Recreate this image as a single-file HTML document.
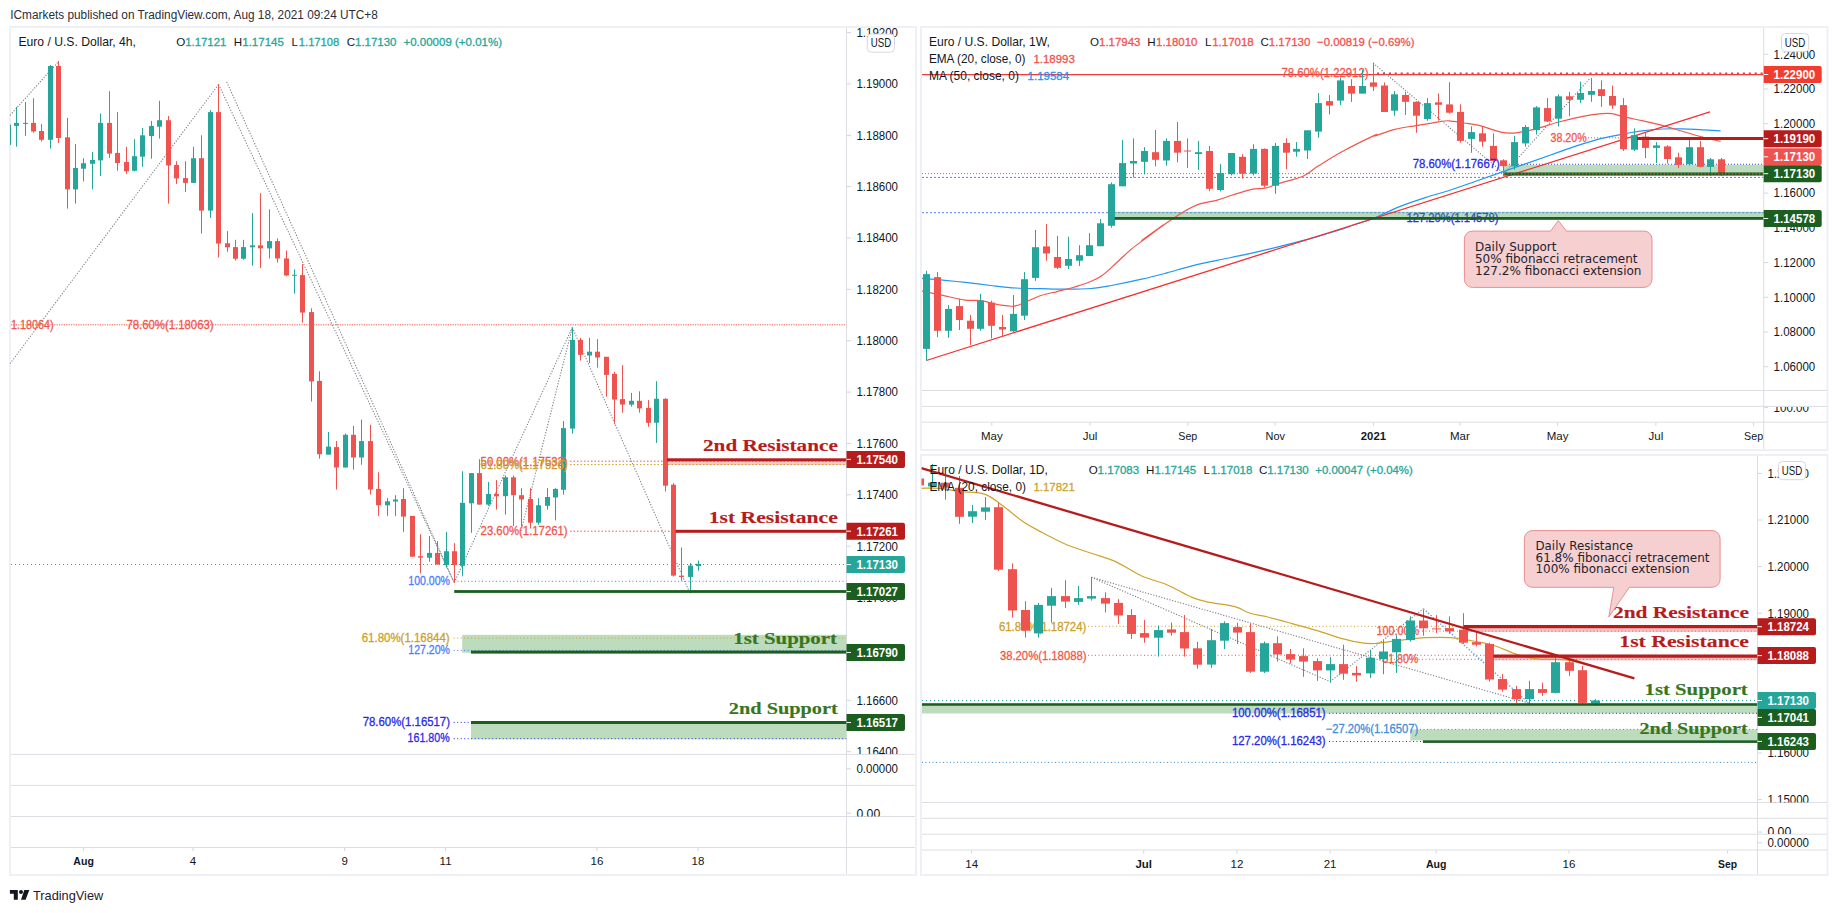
<!DOCTYPE html>
<html lang="en"><head><meta charset="utf-8"><title>EURUSD chart</title>
<style>html,body{margin:0;padding:0;background:#fff;}body{width:1837px;height:913px;overflow:hidden;}svg{display:block;}text{white-space:pre;}</style>
</head><body>
<svg width="1837" height="913" viewBox="0 0 1837 913">
<text x="10.3" y="19.2" font-size="12.5" fill="#2a2e39" font-family='"Liberation Sans", Arial, sans-serif' textLength="367.5" lengthAdjust="spacingAndGlyphs">ICmarkets published on TradingView.com, Aug 18, 2021 09:24 UTC+8</text>
<rect x="10.0" y="27.0" width="906.0" height="848.0" fill="#ffffff" stroke="#eef0f6" stroke-width="2"/>
<rect x="921.0" y="27.0" width="906.5" height="423.0" fill="#ffffff" stroke="#eef0f6" stroke-width="2"/>
<rect x="921.0" y="455.0" width="906.5" height="420.0" fill="#ffffff" stroke="#eef0f6" stroke-width="2"/>
<defs>
<clipPath id="cL"><rect x="10" y="28" width="836.5" height="726"/></clipPath>
<clipPath id="cLa"><rect x="847" y="28" width="68" height="726"/></clipPath>
<clipPath id="cLb"><rect x="847" y="786" width="68" height="30.5"/></clipPath>
<clipPath id="cT"><rect x="922" y="28" width="841.5" height="362"/></clipPath>
<clipPath id="cTa"><rect x="1764" y="28" width="63" height="362"/></clipPath>
<clipPath id="cTb"><rect x="1764" y="407" width="63" height="15"/></clipPath>
<clipPath id="cB"><rect x="921.5" y="456" width="836" height="346"/></clipPath>
<clipPath id="cBa"><rect x="1758" y="456" width="69" height="346.5"/></clipPath>
<clipPath id="cBb"><rect x="1758" y="819" width="69" height="15"/></clipPath>
</defs>
<line x1="11.0" y1="754.4" x2="915.0" y2="754.4" stroke="#dddee3" stroke-width="1"/>
<line x1="11.0" y1="785.4" x2="915.0" y2="785.4" stroke="#dddee3" stroke-width="1"/>
<line x1="11.0" y1="816.5" x2="915.0" y2="816.5" stroke="#dddee3" stroke-width="1"/>
<line x1="11.0" y1="847.5" x2="915.0" y2="847.5" stroke="#dddee3" stroke-width="1"/>
<line x1="846.5" y1="28.0" x2="846.5" y2="874.0" stroke="#dddee3" stroke-width="1"/>
<g clip-path="url(#cL)">
<line x1="11.0" y1="564.5" x2="846.5" y2="564.5" stroke="#26a69a" stroke-width="1" stroke-dasharray="1 3"/>
<line x1="11.0" y1="324.8" x2="846.5" y2="324.8" stroke="#f2564b" stroke-width="1" stroke-dasharray="1.2 1.2"/>
<line x1="10.0" y1="115.4" x2="58.4" y2="61.7" stroke="#7c7f88" stroke-width="1.1" stroke-dasharray="1.2 1.6"/>
<line x1="10.0" y1="363.7" x2="218.6" y2="84.4" stroke="#7c7f88" stroke-width="1.1" stroke-dasharray="1.2 1.6"/>
<line x1="218.6" y1="84.4" x2="454.2" y2="582.6" stroke="#7c7f88" stroke-width="1.1" stroke-dasharray="1.2 1.6"/>
<line x1="226.7" y1="81.9" x2="454.2" y2="582.6" stroke="#7c7f88" stroke-width="1.1" stroke-dasharray="1.2 1.6"/>
<line x1="454.2" y1="582.6" x2="572.3" y2="327.5" stroke="#7c7f88" stroke-width="1.1" stroke-dasharray="1.2 1.6"/>
<line x1="521.0" y1="531.0" x2="572.3" y2="327.5" stroke="#7c7f88" stroke-width="1.1" stroke-dasharray="1.2 1.6"/>
<line x1="572.3" y1="327.5" x2="689.0" y2="591.0" stroke="#7c7f88" stroke-width="1.1" stroke-dasharray="1.2 1.6"/>
<rect x="462.2" y="634.8" width="384.3" height="18.0" fill="#bddcbe"/>
<rect x="471.0" y="724.0" width="375.5" height="15.3" fill="#bddcbe"/>
<rect x="667.0" y="461.0" width="179.5" height="4.0" fill="#f7c9c4"/>
<line x1="453.7" y1="638.1" x2="846.5" y2="638.1" stroke="#cda127" stroke-width="1" stroke-dasharray="1 2.5"/>
<line x1="453.7" y1="650.4" x2="846.5" y2="650.4" stroke="#4a7dff" stroke-width="1" stroke-dasharray="1 2.5"/>
<line x1="453.7" y1="722.4" x2="846.5" y2="722.4" stroke="#2a2ae8" stroke-width="1" stroke-dasharray="1 2.5"/>
<line x1="453.7" y1="738.7" x2="846.5" y2="738.7" stroke="#2a2ae8" stroke-width="1" stroke-dasharray="1 2.5"/>
<line x1="454.0" y1="581.3" x2="846.5" y2="581.3" stroke="#4a7dff" stroke-width="1" stroke-dasharray="1 2.5"/>
<line x1="570.0" y1="531.2" x2="846.5" y2="531.2" stroke="#f2564b" stroke-width="1" stroke-dasharray="1.5 2"/>
<line x1="570.0" y1="461.2" x2="846.5" y2="461.2" stroke="#f2564b" stroke-width="1" stroke-dasharray="1.5 2"/>
<line x1="570.0" y1="464.6" x2="846.5" y2="464.6" stroke="#cda127" stroke-width="1" stroke-dasharray="1.5 2"/>
<rect x="8" y="120.9" width="1" height="27.7" fill="#26a69a"/>
<rect x="6" y="124.7" width="5" height="20.2" fill="#26a69a"/>
<rect x="16" y="107.1" width="1" height="39.6" fill="#26a69a"/>
<rect x="14" y="122.9" width="5" height="3.0" fill="#26a69a"/>
<rect x="25" y="102.0" width="1" height="34.0" fill="#26a69a"/>
<rect x="23" y="122.9" width="5" height="1.0" fill="#26a69a"/>
<rect x="33" y="98.2" width="1" height="34.5" fill="#ef5350"/>
<rect x="31" y="122.9" width="5" height="8.6" fill="#ef5350"/>
<rect x="41" y="123.9" width="1" height="17.6" fill="#ef5350"/>
<rect x="39" y="131.0" width="5" height="8.8" fill="#ef5350"/>
<rect x="50" y="65.0" width="1" height="83.6" fill="#26a69a"/>
<rect x="48" y="66.0" width="5" height="73.8" fill="#26a69a"/>
<rect x="58" y="61.0" width="1" height="81.9" fill="#ef5350"/>
<rect x="56" y="66.0" width="5" height="72.0" fill="#ef5350"/>
<rect x="67" y="117.9" width="1" height="90.7" fill="#ef5350"/>
<rect x="65" y="137.3" width="5" height="52.1" fill="#ef5350"/>
<rect x="75" y="144.1" width="1" height="59.5" fill="#26a69a"/>
<rect x="73" y="168.0" width="5" height="21.4" fill="#26a69a"/>
<rect x="83" y="158.2" width="1" height="23.2" fill="#26a69a"/>
<rect x="81" y="163.2" width="5" height="5.5" fill="#26a69a"/>
<rect x="92" y="151.9" width="1" height="37.5" fill="#26a69a"/>
<rect x="90" y="160.0" width="5" height="3.8" fill="#26a69a"/>
<rect x="100" y="113.4" width="1" height="62.5" fill="#26a69a"/>
<rect x="98" y="122.9" width="5" height="37.5" fill="#26a69a"/>
<rect x="109" y="91.2" width="1" height="66.8" fill="#ef5350"/>
<rect x="107" y="122.9" width="5" height="30.7" fill="#ef5350"/>
<rect x="117" y="112.1" width="1" height="58.7" fill="#ef5350"/>
<rect x="115" y="152.9" width="5" height="10.1" fill="#ef5350"/>
<rect x="126" y="146.9" width="1" height="27.0" fill="#ef5350"/>
<rect x="124" y="162.0" width="5" height="9.3" fill="#ef5350"/>
<rect x="134" y="139.1" width="1" height="32.2" fill="#26a69a"/>
<rect x="132" y="156.2" width="5" height="14.6" fill="#26a69a"/>
<rect x="142" y="128.0" width="1" height="38.8" fill="#26a69a"/>
<rect x="140" y="135.3" width="5" height="21.4" fill="#26a69a"/>
<rect x="151" y="120.9" width="1" height="37.8" fill="#26a69a"/>
<rect x="149" y="126.0" width="5" height="10.1" fill="#26a69a"/>
<rect x="159" y="100.8" width="1" height="37.8" fill="#26a69a"/>
<rect x="157" y="120.2" width="5" height="6.5" fill="#26a69a"/>
<rect x="168" y="115.9" width="1" height="87.7" fill="#ef5350"/>
<rect x="166" y="120.2" width="5" height="45.3" fill="#ef5350"/>
<rect x="176" y="161.2" width="1" height="22.7" fill="#ef5350"/>
<rect x="174" y="165.0" width="5" height="13.4" fill="#ef5350"/>
<rect x="185" y="161.2" width="1" height="30.7" fill="#ef5350"/>
<rect x="183" y="178.1" width="5" height="4.8" fill="#ef5350"/>
<rect x="193" y="146.9" width="1" height="36.0" fill="#26a69a"/>
<rect x="191" y="158.2" width="5" height="24.7" fill="#26a69a"/>
<rect x="201" y="135.3" width="1" height="98.2" fill="#ef5350"/>
<rect x="199" y="158.2" width="5" height="52.4" fill="#ef5350"/>
<rect x="210" y="110.1" width="1" height="107.8" fill="#26a69a"/>
<rect x="208" y="112.1" width="5" height="98.5" fill="#26a69a"/>
<rect x="218" y="84.4" width="1" height="173.0" fill="#ef5350"/>
<rect x="216" y="112.1" width="5" height="131.5" fill="#ef5350"/>
<rect x="227" y="231.0" width="1" height="20.7" fill="#ef5350"/>
<rect x="225" y="243.3" width="5" height="4.0" fill="#ef5350"/>
<rect x="235" y="239.8" width="1" height="20.7" fill="#ef5350"/>
<rect x="233" y="247.1" width="5" height="11.6" fill="#ef5350"/>
<rect x="243" y="239.8" width="1" height="19.9" fill="#26a69a"/>
<rect x="241" y="247.1" width="5" height="11.6" fill="#26a69a"/>
<rect x="252" y="213.1" width="1" height="52.4" fill="#26a69a"/>
<rect x="250" y="245.3" width="5" height="2.0" fill="#26a69a"/>
<rect x="260" y="193.2" width="1" height="74.8" fill="#ef5350"/>
<rect x="258" y="245.3" width="5" height="3.0" fill="#ef5350"/>
<rect x="269" y="209.3" width="1" height="49.1" fill="#26a69a"/>
<rect x="267" y="241.1" width="5" height="7.3" fill="#26a69a"/>
<rect x="277" y="238.3" width="1" height="24.2" fill="#ef5350"/>
<rect x="275" y="241.1" width="5" height="17.4" fill="#ef5350"/>
<rect x="286" y="250.4" width="1" height="25.9" fill="#ef5350"/>
<rect x="284" y="258.4" width="5" height="17.1" fill="#ef5350"/>
<rect x="294" y="269.3" width="1" height="24.4" fill="#26a69a"/>
<rect x="292" y="274.8" width="5" height="1.0" fill="#26a69a"/>
<rect x="302" y="264.2" width="1" height="58.4" fill="#ef5350"/>
<rect x="300" y="275.1" width="5" height="37.5" fill="#ef5350"/>
<rect x="311" y="308.3" width="1" height="93.2" fill="#ef5350"/>
<rect x="309" y="312.1" width="5" height="69.3" fill="#ef5350"/>
<rect x="319" y="371.3" width="1" height="87.4" fill="#ef5350"/>
<rect x="317" y="380.9" width="5" height="73.3" fill="#ef5350"/>
<rect x="328" y="432.0" width="1" height="22.2" fill="#26a69a"/>
<rect x="326" y="446.6" width="5" height="8.1" fill="#26a69a"/>
<rect x="336" y="441.1" width="1" height="48.4" fill="#ef5350"/>
<rect x="334" y="447.1" width="5" height="20.4" fill="#ef5350"/>
<rect x="345" y="433.5" width="1" height="34.0" fill="#26a69a"/>
<rect x="343" y="434.8" width="5" height="32.7" fill="#26a69a"/>
<rect x="353" y="425.9" width="1" height="43.8" fill="#ef5350"/>
<rect x="351" y="434.8" width="5" height="22.7" fill="#ef5350"/>
<rect x="361" y="419.6" width="1" height="45.1" fill="#26a69a"/>
<rect x="359" y="441.1" width="5" height="16.4" fill="#26a69a"/>
<rect x="370" y="424.7" width="1" height="69.8" fill="#ef5350"/>
<rect x="368" y="441.1" width="5" height="48.4" fill="#ef5350"/>
<rect x="378" y="472.3" width="1" height="43.6" fill="#ef5350"/>
<rect x="376" y="488.9" width="5" height="16.4" fill="#ef5350"/>
<rect x="387" y="498.2" width="1" height="17.6" fill="#26a69a"/>
<rect x="385" y="501.3" width="5" height="4.0" fill="#26a69a"/>
<rect x="395" y="495.2" width="1" height="20.7" fill="#26a69a"/>
<rect x="393" y="499.5" width="5" height="2.0" fill="#26a69a"/>
<rect x="403" y="488.2" width="1" height="43.6" fill="#ef5350"/>
<rect x="401" y="499.0" width="5" height="17.6" fill="#ef5350"/>
<rect x="412" y="515.9" width="1" height="40.8" fill="#ef5350"/>
<rect x="410" y="515.9" width="5" height="40.8" fill="#ef5350"/>
<rect x="420" y="534.3" width="1" height="39.0" fill="#ef5350"/>
<rect x="418" y="556.2" width="5" height="1.5" fill="#ef5350"/>
<rect x="429" y="536.0" width="1" height="25.7" fill="#26a69a"/>
<rect x="427" y="552.9" width="5" height="4.8" fill="#26a69a"/>
<rect x="437" y="541.1" width="1" height="23.4" fill="#ef5350"/>
<rect x="435" y="552.9" width="5" height="11.6" fill="#ef5350"/>
<rect x="446" y="531.8" width="1" height="35.8" fill="#26a69a"/>
<rect x="444" y="551.2" width="5" height="13.9" fill="#26a69a"/>
<rect x="454" y="543.1" width="1" height="39.6" fill="#ef5350"/>
<rect x="452" y="551.2" width="5" height="13.9" fill="#ef5350"/>
<rect x="462" y="471.3" width="1" height="105.0" fill="#26a69a"/>
<rect x="460" y="502.8" width="5" height="63.0" fill="#26a69a"/>
<rect x="471" y="473.1" width="1" height="59.7" fill="#26a69a"/>
<rect x="469" y="473.1" width="5" height="30.2" fill="#26a69a"/>
<rect x="479" y="459.2" width="1" height="45.3" fill="#ef5350"/>
<rect x="477" y="473.1" width="5" height="31.5" fill="#ef5350"/>
<rect x="488" y="481.9" width="1" height="23.9" fill="#26a69a"/>
<rect x="486" y="494.0" width="5" height="10.6" fill="#26a69a"/>
<rect x="496" y="480.1" width="1" height="29.5" fill="#ef5350"/>
<rect x="494" y="494.0" width="5" height="2.3" fill="#ef5350"/>
<rect x="505" y="475.6" width="1" height="39.0" fill="#26a69a"/>
<rect x="503" y="477.3" width="5" height="18.9" fill="#26a69a"/>
<rect x="513" y="475.6" width="1" height="50.4" fill="#ef5350"/>
<rect x="511" y="477.3" width="5" height="17.9" fill="#ef5350"/>
<rect x="521" y="488.2" width="1" height="37.8" fill="#ef5350"/>
<rect x="519" y="495.2" width="5" height="4.3" fill="#ef5350"/>
<rect x="530" y="488.2" width="1" height="40.3" fill="#ef5350"/>
<rect x="528" y="499.0" width="5" height="23.7" fill="#ef5350"/>
<rect x="538" y="498.2" width="1" height="26.5" fill="#26a69a"/>
<rect x="536" y="505.3" width="5" height="17.4" fill="#26a69a"/>
<rect x="547" y="488.2" width="1" height="21.4" fill="#26a69a"/>
<rect x="545" y="497.0" width="5" height="8.8" fill="#26a69a"/>
<rect x="555" y="488.2" width="1" height="32.2" fill="#26a69a"/>
<rect x="553" y="488.9" width="5" height="8.6" fill="#26a69a"/>
<rect x="563" y="421.0" width="1" height="73.6" fill="#26a69a"/>
<rect x="561" y="428.1" width="5" height="61.7" fill="#26a69a"/>
<rect x="572" y="327.8" width="1" height="105.8" fill="#26a69a"/>
<rect x="570" y="339.9" width="5" height="88.7" fill="#26a69a"/>
<rect x="580" y="337.9" width="1" height="22.7" fill="#ef5350"/>
<rect x="578" y="339.9" width="5" height="14.9" fill="#ef5350"/>
<rect x="589" y="337.9" width="1" height="25.2" fill="#26a69a"/>
<rect x="587" y="351.7" width="5" height="3.8" fill="#26a69a"/>
<rect x="597" y="339.1" width="1" height="28.5" fill="#ef5350"/>
<rect x="595" y="351.7" width="5" height="5.8" fill="#ef5350"/>
<rect x="606" y="356.8" width="1" height="39.8" fill="#ef5350"/>
<rect x="604" y="356.8" width="5" height="18.1" fill="#ef5350"/>
<rect x="614" y="371.9" width="1" height="52.4" fill="#ef5350"/>
<rect x="612" y="373.9" width="5" height="25.7" fill="#ef5350"/>
<rect x="622" y="365.1" width="1" height="47.6" fill="#ef5350"/>
<rect x="620" y="399.1" width="5" height="5.5" fill="#ef5350"/>
<rect x="631" y="392.8" width="1" height="13.9" fill="#26a69a"/>
<rect x="629" y="400.8" width="5" height="3.8" fill="#26a69a"/>
<rect x="639" y="391.3" width="1" height="21.4" fill="#ef5350"/>
<rect x="637" y="400.8" width="5" height="7.6" fill="#ef5350"/>
<rect x="648" y="400.1" width="1" height="26.7" fill="#ef5350"/>
<rect x="646" y="407.9" width="5" height="14.9" fill="#ef5350"/>
<rect x="656" y="381.2" width="1" height="61.7" fill="#26a69a"/>
<rect x="654" y="398.8" width="5" height="23.9" fill="#26a69a"/>
<rect x="665" y="398.3" width="1" height="93.2" fill="#ef5350"/>
<rect x="663" y="398.8" width="5" height="86.9" fill="#ef5350"/>
<rect x="673" y="483.2" width="1" height="93.2" fill="#ef5350"/>
<rect x="671" y="484.7" width="5" height="90.9" fill="#ef5350"/>
<rect x="681" y="547.4" width="1" height="33.3" fill="#ef5350"/>
<rect x="679" y="575.7" width="5" height="1.3" fill="#ef5350"/>
<rect x="690" y="563.1" width="1" height="30.2" fill="#26a69a"/>
<rect x="688" y="565.6" width="5" height="11.3" fill="#26a69a"/>
<rect x="698" y="560.5" width="1" height="10.1" fill="#26a69a"/>
<rect x="696" y="563.8" width="5" height="2.3" fill="#26a69a"/>
<rect x="667.0" y="458.3" width="179.5" height="3.0" fill="#b71c1c"/>
<rect x="675.6" y="529.8" width="170.9" height="3.0" fill="#b71c1c"/>
<rect x="454.2" y="590.1" width="392.3" height="2.8" fill="#1b5e20"/>
<rect x="471.0" y="650.6" width="375.5" height="3.0" fill="#1b5e20"/>
<rect x="471.0" y="721.0" width="375.5" height="3.0" fill="#1b5e20"/>
<text x="11.0" y="329.0" font-size="12" fill="#f2564b" font-family='"Liberation Sans", Arial, sans-serif' textLength="42.5" lengthAdjust="spacingAndGlyphs" stroke="#f2564b" stroke-width="0.3">1.18064)</text>
<text x="126.4" y="329.0" font-size="12" fill="#f2564b" font-family='"Liberation Sans", Arial, sans-serif' textLength="87.2" lengthAdjust="spacingAndGlyphs" stroke="#f2564b" stroke-width="0.3">78.60%(1.18063)</text>
<text x="480.6" y="465.5" font-size="12" fill="#f2564b" font-family='"Liberation Sans", Arial, sans-serif' textLength="87.0" lengthAdjust="spacingAndGlyphs" stroke="#f2564b" stroke-width="0.3">50.00%(1.17532)</text>
<text x="480.6" y="468.8" font-size="12" fill="#cda127" font-family='"Liberation Sans", Arial, sans-serif' textLength="87.0" lengthAdjust="spacingAndGlyphs" stroke="#cda127" stroke-width="0.3">61.80%(1.17526)</text>
<text x="480.6" y="535.4" font-size="12" fill="#f2564b" font-family='"Liberation Sans", Arial, sans-serif' textLength="87.0" lengthAdjust="spacingAndGlyphs" stroke="#f2564b" stroke-width="0.3">23.60%(1.17261)</text>
<text x="408.3" y="585.3" font-size="12" fill="#4a7dff" font-family='"Liberation Sans", Arial, sans-serif' textLength="41.7" lengthAdjust="spacingAndGlyphs" stroke="#4a7dff" stroke-width="0.3">100.00%</text>
<text x="361.7" y="642.0" font-size="12" fill="#cda127" font-family='"Liberation Sans", Arial, sans-serif' textLength="88.0" lengthAdjust="spacingAndGlyphs" stroke="#cda127" stroke-width="0.3">61.80%(1.16844)</text>
<text x="408.3" y="654.0" font-size="12" fill="#4a7dff" font-family='"Liberation Sans", Arial, sans-serif' textLength="41.7" lengthAdjust="spacingAndGlyphs" stroke="#4a7dff" stroke-width="0.3">127.20%</text>
<text x="362.7" y="725.8" font-size="12" fill="#2a2ae8" font-family='"Liberation Sans", Arial, sans-serif' textLength="87.3" lengthAdjust="spacingAndGlyphs" stroke="#2a2ae8" stroke-width="0.3">78.60%(1.16517)</text>
<text x="407.6" y="742.2" font-size="12" fill="#2a2ae8" font-family='"Liberation Sans", Arial, sans-serif' textLength="42.0" lengthAdjust="spacingAndGlyphs" stroke="#2a2ae8" stroke-width="0.3">161.80%</text>
<text x="837.8" y="451.2" font-size="17.6" fill="#b71c1c" font-family='"Liberation Serif", "Times New Roman", serif' text-anchor="end" font-weight="bold" textLength="134.8" lengthAdjust="spacingAndGlyphs" stroke="#b71c1c" stroke-width="0.15">2nd Resistance</text>
<text x="837.8" y="522.7" font-size="17.6" fill="#b71c1c" font-family='"Liberation Serif", "Times New Roman", serif' text-anchor="end" font-weight="bold" textLength="129.0" lengthAdjust="spacingAndGlyphs" stroke="#b71c1c" stroke-width="0.15">1st Resistance</text>
<text x="837.0" y="643.7" font-size="17.6" fill="#38761d" font-family='"Liberation Serif", "Times New Roman", serif' text-anchor="end" font-weight="bold" textLength="103.7" lengthAdjust="spacingAndGlyphs" stroke="#38761d" stroke-width="0.15">1st Support</text>
<text x="837.8" y="713.7" font-size="17.6" fill="#38761d" font-family='"Liberation Serif", "Times New Roman", serif' text-anchor="end" font-weight="bold" textLength="109.0" lengthAdjust="spacingAndGlyphs" stroke="#38761d" stroke-width="0.15">2nd Support</text>
</g>
<text x="18.4" y="46.2" font-size="12.2" fill="#131722" font-family='"Liberation Sans", Arial, sans-serif' textLength="117.6" lengthAdjust="spacingAndGlyphs">Euro / U.S. Dollar, 4h,</text>
<text x="176.3" y="46.2" font-size="11.6" fill="#131722" font-family='"Liberation Sans", Arial, sans-serif'>O</text>
<text x="185.3" y="46.2" font-size="11.8" fill="#26a69a" font-family='"Liberation Sans", Arial, sans-serif' textLength="41.0" lengthAdjust="spacingAndGlyphs" stroke="#26a69a" stroke-width="0.3">1.17121</text>
<text x="233.8" y="46.2" font-size="11.6" fill="#131722" font-family='"Liberation Sans", Arial, sans-serif'>H</text>
<text x="242.3" y="46.2" font-size="11.8" fill="#26a69a" font-family='"Liberation Sans", Arial, sans-serif' textLength="41.5" lengthAdjust="spacingAndGlyphs" stroke="#26a69a" stroke-width="0.3">1.17145</text>
<text x="291.5" y="46.2" font-size="11.6" fill="#131722" font-family='"Liberation Sans", Arial, sans-serif'>L</text>
<text x="298.8" y="46.2" font-size="11.8" fill="#26a69a" font-family='"Liberation Sans", Arial, sans-serif' textLength="40.5" lengthAdjust="spacingAndGlyphs" stroke="#26a69a" stroke-width="0.3">1.17108</text>
<text x="346.8" y="46.2" font-size="11.6" fill="#131722" font-family='"Liberation Sans", Arial, sans-serif'>C</text>
<text x="355.0" y="46.2" font-size="11.8" fill="#26a69a" font-family='"Liberation Sans", Arial, sans-serif' textLength="41.5" lengthAdjust="spacingAndGlyphs" stroke="#26a69a" stroke-width="0.3">1.17130</text>
<text x="403.5" y="46.2" font-size="11.8" fill="#26a69a" font-family='"Liberation Sans", Arial, sans-serif' textLength="98.5" lengthAdjust="spacingAndGlyphs" stroke="#26a69a" stroke-width="0.3">+0.00009 (+0.01%)</text>
<g clip-path="url(#cLa)">
<line x1="846.5" y1="32.5" x2="851.0" y2="32.5" stroke="#d3d5dc" stroke-width="1"/>
<text x="856.4" y="36.8" font-size="12.2" fill="#131722" font-family='"Liberation Sans", Arial, sans-serif' textLength="41.6" lengthAdjust="spacingAndGlyphs">1.19200</text>
<line x1="846.5" y1="83.9" x2="851.0" y2="83.9" stroke="#d3d5dc" stroke-width="1"/>
<text x="856.4" y="88.2" font-size="12.2" fill="#131722" font-family='"Liberation Sans", Arial, sans-serif' textLength="41.6" lengthAdjust="spacingAndGlyphs">1.19000</text>
<line x1="846.5" y1="135.3" x2="851.0" y2="135.3" stroke="#d3d5dc" stroke-width="1"/>
<text x="856.4" y="139.6" font-size="12.2" fill="#131722" font-family='"Liberation Sans", Arial, sans-serif' textLength="41.6" lengthAdjust="spacingAndGlyphs">1.18800</text>
<line x1="846.5" y1="186.6" x2="851.0" y2="186.6" stroke="#d3d5dc" stroke-width="1"/>
<text x="856.4" y="190.9" font-size="12.2" fill="#131722" font-family='"Liberation Sans", Arial, sans-serif' textLength="41.6" lengthAdjust="spacingAndGlyphs">1.18600</text>
<line x1="846.5" y1="238.0" x2="851.0" y2="238.0" stroke="#d3d5dc" stroke-width="1"/>
<text x="856.4" y="242.3" font-size="12.2" fill="#131722" font-family='"Liberation Sans", Arial, sans-serif' textLength="41.6" lengthAdjust="spacingAndGlyphs">1.18400</text>
<line x1="846.5" y1="289.4" x2="851.0" y2="289.4" stroke="#d3d5dc" stroke-width="1"/>
<text x="856.4" y="293.7" font-size="12.2" fill="#131722" font-family='"Liberation Sans", Arial, sans-serif' textLength="41.6" lengthAdjust="spacingAndGlyphs">1.18200</text>
<line x1="846.5" y1="340.7" x2="851.0" y2="340.7" stroke="#d3d5dc" stroke-width="1"/>
<text x="856.4" y="345.0" font-size="12.2" fill="#131722" font-family='"Liberation Sans", Arial, sans-serif' textLength="41.6" lengthAdjust="spacingAndGlyphs">1.18000</text>
<line x1="846.5" y1="392.1" x2="851.0" y2="392.1" stroke="#d3d5dc" stroke-width="1"/>
<text x="856.4" y="396.4" font-size="12.2" fill="#131722" font-family='"Liberation Sans", Arial, sans-serif' textLength="41.6" lengthAdjust="spacingAndGlyphs">1.17800</text>
<line x1="846.5" y1="443.5" x2="851.0" y2="443.5" stroke="#d3d5dc" stroke-width="1"/>
<text x="856.4" y="447.8" font-size="12.2" fill="#131722" font-family='"Liberation Sans", Arial, sans-serif' textLength="41.6" lengthAdjust="spacingAndGlyphs">1.17600</text>
<line x1="846.5" y1="494.8" x2="851.0" y2="494.8" stroke="#d3d5dc" stroke-width="1"/>
<text x="856.4" y="499.1" font-size="12.2" fill="#131722" font-family='"Liberation Sans", Arial, sans-serif' textLength="41.6" lengthAdjust="spacingAndGlyphs">1.17400</text>
<line x1="846.5" y1="546.2" x2="851.0" y2="546.2" stroke="#d3d5dc" stroke-width="1"/>
<text x="856.4" y="550.5" font-size="12.2" fill="#131722" font-family='"Liberation Sans", Arial, sans-serif' textLength="41.6" lengthAdjust="spacingAndGlyphs">1.17200</text>
<line x1="846.5" y1="597.6" x2="851.0" y2="597.6" stroke="#d3d5dc" stroke-width="1"/>
<text x="856.4" y="601.9" font-size="12.2" fill="#131722" font-family='"Liberation Sans", Arial, sans-serif' textLength="41.6" lengthAdjust="spacingAndGlyphs">1.17000</text>
<line x1="846.5" y1="648.9" x2="851.0" y2="648.9" stroke="#d3d5dc" stroke-width="1"/>
<text x="856.4" y="653.2" font-size="12.2" fill="#131722" font-family='"Liberation Sans", Arial, sans-serif' textLength="41.6" lengthAdjust="spacingAndGlyphs">1.16800</text>
<line x1="846.5" y1="700.3" x2="851.0" y2="700.3" stroke="#d3d5dc" stroke-width="1"/>
<text x="856.4" y="704.6" font-size="12.2" fill="#131722" font-family='"Liberation Sans", Arial, sans-serif' textLength="41.6" lengthAdjust="spacingAndGlyphs">1.16600</text>
<line x1="846.5" y1="751.7" x2="851.0" y2="751.7" stroke="#d3d5dc" stroke-width="1"/>
<text x="856.4" y="756.0" font-size="12.2" fill="#131722" font-family='"Liberation Sans", Arial, sans-serif' textLength="41.6" lengthAdjust="spacingAndGlyphs">1.16400</text>
</g>
<line x1="846.5" y1="768.9" x2="851.0" y2="768.9" stroke="#d3d5dc" stroke-width="1"/>
<text x="856.4" y="773.2" font-size="12.2" fill="#131722" font-family='"Liberation Sans", Arial, sans-serif' textLength="41.6" lengthAdjust="spacingAndGlyphs">0.00000</text>
<g clip-path="url(#cLb)">
<line x1="846.5" y1="813.2" x2="851.0" y2="813.2" stroke="#d3d5dc" stroke-width="1"/>
<text x="856.4" y="817.5" font-size="12.2" fill="#131722" font-family='"Liberation Sans", Arial, sans-serif' textLength="23.8" lengthAdjust="spacingAndGlyphs">0.00</text>
</g>
<rect x="867.3" y="34.0" width="27.2" height="18.2" rx="4" fill="#ffffff" stroke="#d5d8e2" stroke-width="1"/>
<text x="880.9" y="47.4" font-size="12" fill="#131722" font-family='"Liberation Sans", Arial, sans-serif' text-anchor="middle" textLength="20.5" lengthAdjust="spacingAndGlyphs">USD</text>
<path d="M846.5 450.9 h56.5 a2 2 0 0 1 2 2 v13.0 a2 2 0 0 1 -2 2 h-56.5 z" fill="#b71c1c"/>
<line x1="846.5" y1="459.4" x2="851.0" y2="459.4" stroke="#ffffff" stroke-width="1"/>
<text x="856.4" y="463.7" font-size="12.2" fill="#ffffff" font-family='"Liberation Sans", Arial, sans-serif' font-weight="bold" textLength="41.6" lengthAdjust="spacingAndGlyphs">1.17540</text>
<path d="M846.5 522.7 h56.5 a2 2 0 0 1 2 2 v13.0 a2 2 0 0 1 -2 2 h-56.5 z" fill="#b71c1c"/>
<line x1="846.5" y1="531.2" x2="851.0" y2="531.2" stroke="#ffffff" stroke-width="1"/>
<text x="856.4" y="535.5" font-size="12.2" fill="#ffffff" font-family='"Liberation Sans", Arial, sans-serif' font-weight="bold" textLength="41.6" lengthAdjust="spacingAndGlyphs">1.17261</text>
<path d="M846.5 556.1 h56.5 a2 2 0 0 1 2 2 v13.0 a2 2 0 0 1 -2 2 h-56.5 z" fill="#26a69a"/>
<line x1="846.5" y1="564.6" x2="851.0" y2="564.6" stroke="#ffffff" stroke-width="1"/>
<text x="856.4" y="568.9" font-size="12.2" fill="#ffffff" font-family='"Liberation Sans", Arial, sans-serif' font-weight="bold" textLength="41.6" lengthAdjust="spacingAndGlyphs">1.17130</text>
<path d="M846.5 583.1 h56.5 a2 2 0 0 1 2 2 v13.0 a2 2 0 0 1 -2 2 h-56.5 z" fill="#1b5e20"/>
<line x1="846.5" y1="591.6" x2="851.0" y2="591.6" stroke="#ffffff" stroke-width="1"/>
<text x="856.4" y="595.9" font-size="12.2" fill="#ffffff" font-family='"Liberation Sans", Arial, sans-serif' font-weight="bold" textLength="41.6" lengthAdjust="spacingAndGlyphs">1.17027</text>
<path d="M846.5 644.0 h56.5 a2 2 0 0 1 2 2 v13.0 a2 2 0 0 1 -2 2 h-56.5 z" fill="#1b5e20"/>
<line x1="846.5" y1="652.5" x2="851.0" y2="652.5" stroke="#ffffff" stroke-width="1"/>
<text x="856.4" y="656.8" font-size="12.2" fill="#ffffff" font-family='"Liberation Sans", Arial, sans-serif' font-weight="bold" textLength="41.6" lengthAdjust="spacingAndGlyphs">1.16790</text>
<path d="M846.5 714.0 h56.5 a2 2 0 0 1 2 2 v13.0 a2 2 0 0 1 -2 2 h-56.5 z" fill="#1b5e20"/>
<line x1="846.5" y1="722.5" x2="851.0" y2="722.5" stroke="#ffffff" stroke-width="1"/>
<text x="856.4" y="726.8" font-size="12.2" fill="#ffffff" font-family='"Liberation Sans", Arial, sans-serif' font-weight="bold" textLength="41.6" lengthAdjust="spacingAndGlyphs">1.16517</text>
<line x1="83.6" y1="848.0" x2="83.6" y2="851.0" stroke="#d3d5dc" stroke-width="1"/>
<text x="83.6" y="864.8" font-size="11.5" fill="#131722" font-family='"Liberation Sans", Arial, sans-serif' text-anchor="middle" font-weight="bold" textLength="20.5" lengthAdjust="spacingAndGlyphs">Aug</text>
<line x1="193.0" y1="848.0" x2="193.0" y2="851.0" stroke="#d3d5dc" stroke-width="1"/>
<text x="193.0" y="864.8" font-size="11.5" fill="#131722" font-family='"Liberation Sans", Arial, sans-serif' text-anchor="middle">4</text>
<line x1="344.6" y1="848.0" x2="344.6" y2="851.0" stroke="#d3d5dc" stroke-width="1"/>
<text x="344.6" y="864.8" font-size="11.5" fill="#131722" font-family='"Liberation Sans", Arial, sans-serif' text-anchor="middle">9</text>
<line x1="445.6" y1="848.0" x2="445.6" y2="851.0" stroke="#d3d5dc" stroke-width="1"/>
<text x="445.6" y="864.8" font-size="11.5" fill="#131722" font-family='"Liberation Sans", Arial, sans-serif' text-anchor="middle">11</text>
<line x1="597.0" y1="848.0" x2="597.0" y2="851.0" stroke="#d3d5dc" stroke-width="1"/>
<text x="597.0" y="864.8" font-size="11.5" fill="#131722" font-family='"Liberation Sans", Arial, sans-serif' text-anchor="middle">16</text>
<line x1="698.0" y1="848.0" x2="698.0" y2="851.0" stroke="#d3d5dc" stroke-width="1"/>
<text x="698.0" y="864.8" font-size="11.5" fill="#131722" font-family='"Liberation Sans", Arial, sans-serif' text-anchor="middle">18</text>
<path d="M9.9 890 H17.8 V899.8 H13.8 V893.8 H9.9 Z" fill="#131722"/>
<circle cx="21" cy="892" r="2" fill="#131722"/>
<path d="M24.3 890 H29.3 L25.6 899.8 H21 Z" fill="#131722"/>
<text x="33.0" y="899.8" font-size="13" fill="#1e222d" font-family='"Liberation Sans", Arial, sans-serif' textLength="70.2" lengthAdjust="spacingAndGlyphs">TradingView</text>
<line x1="922.0" y1="390.5" x2="1827.0" y2="390.5" stroke="#dddee3" stroke-width="1"/>
<line x1="922.0" y1="406.4" x2="1827.0" y2="406.4" stroke="#dddee3" stroke-width="1"/>
<line x1="922.0" y1="422.2" x2="1827.0" y2="422.2" stroke="#dddee3" stroke-width="1"/>
<line x1="1763.7" y1="28.0" x2="1763.7" y2="449.0" stroke="#dddee3" stroke-width="1"/>
<g clip-path="url(#cT)">
<line x1="922.0" y1="74.6" x2="1763.7" y2="74.6" stroke="#f23c3c" stroke-width="1.2"/>
<line x1="1377.0" y1="73.5" x2="1763.7" y2="73.5" stroke="#f23c3c" stroke-width="2" stroke-dasharray="2.2 3.7"/>
<line x1="922.0" y1="173.6" x2="1763.7" y2="173.6" stroke="#f2564b" stroke-width="1" stroke-dasharray="1 2"/>
<line x1="922.0" y1="177.4" x2="1763.7" y2="177.4" stroke="#5b7fe8" stroke-width="1" stroke-dasharray="2 2"/>
<line x1="922.0" y1="212.7" x2="1763.7" y2="212.7" stroke="#5b7fe8" stroke-width="1" stroke-dasharray="2 2"/>
<line x1="1500.0" y1="164.3" x2="1763.7" y2="164.3" stroke="#2a2ae8" stroke-width="1" stroke-dasharray="1 2"/>
<line x1="1588.0" y1="137.8" x2="1637.0" y2="137.8" stroke="#f2564b" stroke-width="1" stroke-dasharray="1 2"/>
<text x="1406.5" y="221.9" font-size="12" fill="#2a2ae8" font-family='"Liberation Sans", Arial, sans-serif' textLength="92.0" lengthAdjust="spacingAndGlyphs" stroke="#2a2ae8" stroke-width="0.3">127.20%(1.14578)</text>
<rect x="1114.7" y="211.9" width="649.0" height="5.2" fill="#43a047" fill-opacity="0.38"/>
<line x1="1114.7" y1="212.4" x2="1763.7" y2="212.4" stroke="#6f9fe0" stroke-width="1" stroke-dasharray="2 2"/>
<rect x="1504.0" y="164.8" width="259.7" height="7.8" fill="#bddcbe"/>
<line x1="1373.0" y1="63.0" x2="1504.0" y2="173.6" stroke="#7c7f88" stroke-width="1.1" stroke-dasharray="1.2 1.6"/>
<line x1="1504.0" y1="173.6" x2="1590.4" y2="77.9" stroke="#7c7f88" stroke-width="1.1" stroke-dasharray="1.2 1.6"/>
<path d="M921.3 278.4 C924.4 278.7 932.8 279.2 940.2 279.9 C947.5 280.6 957.0 281.5 965.4 282.4 C973.8 283.4 982.2 284.5 990.6 285.5 C999.0 286.4 1007.4 287.4 1015.8 288.0 C1024.2 288.5 1032.6 288.5 1041.0 288.7 C1049.4 288.9 1057.8 289.3 1066.2 289.2 C1074.5 289.2 1083.8 289.1 1091.3 288.5 C1098.9 287.9 1103.1 287.0 1111.5 285.5 C1119.9 283.9 1132.5 281.3 1141.7 279.2 C1151.0 277.1 1158.5 275.1 1166.9 272.9 C1175.3 270.6 1183.7 267.9 1192.1 265.8 C1200.5 263.7 1208.9 262.0 1217.3 260.3 C1225.7 258.5 1234.1 257.0 1242.5 255.2 C1250.9 253.4 1259.3 251.5 1267.7 249.4 C1276.1 247.4 1284.5 245.3 1292.9 243.1 C1301.3 241.0 1309.7 238.7 1318.1 236.3 C1326.5 233.9 1337.4 230.7 1343.3 228.8 C1349.1 226.9 1348.0 226.8 1353.3 225.0 C1358.6 223.2 1367.2 220.8 1375.0 217.7 C1382.8 214.6 1391.8 209.7 1400.2 206.4 C1408.6 203.0 1417.0 200.3 1425.4 197.6 C1433.8 194.8 1442.2 192.7 1450.6 190.0 C1459.0 187.3 1467.4 184.1 1475.8 181.2 C1484.2 178.2 1492.6 175.3 1501.0 172.4 C1509.4 169.4 1517.8 166.5 1526.2 163.6 C1534.5 160.6 1542.9 157.7 1551.3 154.7 C1559.7 151.8 1568.1 148.6 1576.5 145.9 C1584.9 143.2 1593.3 140.5 1601.7 138.4 C1610.1 136.3 1620.2 134.6 1626.9 133.3 C1633.6 132.1 1636.2 131.5 1642.0 130.8 C1647.9 130.1 1655.5 129.4 1662.2 129.0 C1668.9 128.7 1675.6 128.7 1682.3 128.8 C1689.1 128.9 1696.1 129.5 1702.5 129.8 C1708.9 130.1 1717.6 130.6 1720.6 130.8" fill="none" stroke="#2196f3" stroke-width="1.2" stroke-linejoin="round"/>
<path d="M921.3 291.0 C924.4 291.6 932.8 293.3 940.2 294.8 C947.5 296.3 958.7 299.1 965.4 300.1 C972.1 301.0 974.6 299.7 980.5 300.6 C986.4 301.4 995.0 304.2 1000.7 305.1 C1006.3 306.0 1010.3 306.7 1014.5 306.1 C1018.7 305.6 1021.4 303.6 1025.8 301.8 C1030.3 300.1 1035.9 297.2 1041.0 295.5 C1046.0 293.9 1051.0 293.0 1056.1 291.8 C1061.1 290.5 1065.7 289.6 1071.2 288.0 C1076.6 286.4 1083.8 284.2 1088.8 282.2 C1093.9 280.2 1096.8 279.4 1101.4 276.1 C1106.0 272.9 1111.5 267.3 1116.5 262.8 C1121.6 258.3 1126.6 253.1 1131.6 248.9 C1136.7 244.7 1141.5 241.6 1146.8 237.6 C1152.0 233.6 1164.0 224.5 1163.1 225.0 C1162.3 225.5 1141.1 240.8 1141.7 240.4 C1142.4 240.0 1160.2 227.4 1166.9 222.8 C1173.6 218.1 1176.6 215.8 1182.0 212.7 C1187.5 209.5 1193.8 206.0 1199.7 203.9 C1205.5 201.8 1211.8 201.6 1217.3 200.1 C1222.8 198.6 1226.5 196.8 1232.4 195.0 C1238.3 193.2 1247.1 190.4 1252.6 189.2 C1258.0 188.1 1261.0 189.2 1265.2 188.2 C1269.4 187.3 1271.5 185.7 1277.8 183.7 C1284.1 181.7 1296.2 179.1 1303.0 176.2 C1309.7 173.2 1311.3 170.3 1318.1 166.1 C1324.8 161.9 1333.8 156.1 1343.3 151.0 C1352.7 145.8 1369.7 137.6 1375.0 135.1 C1380.3 132.6 1371.7 136.9 1375.0 135.9 C1378.3 134.9 1387.9 131.0 1394.8 129.3 C1401.7 127.6 1408.8 126.8 1416.2 125.6 C1423.6 124.3 1433.4 122.6 1438.9 121.8 C1444.4 121.0 1444.8 120.6 1449.0 120.8 C1453.2 121.0 1458.9 122.2 1464.1 123.0 C1469.3 123.8 1473.9 124.1 1480.0 125.6 C1486.1 127.1 1494.9 130.9 1501.0 132.1 C1507.0 133.3 1510.2 133.4 1516.1 132.8 C1522.0 132.3 1529.1 130.6 1536.2 128.8 C1543.4 127.0 1550.9 124.1 1558.9 122.0 C1566.9 119.9 1577.0 117.6 1584.1 116.2 C1591.2 114.8 1597.1 114.1 1601.7 113.7 C1606.3 113.3 1608.0 113.1 1611.8 113.7 C1615.6 114.2 1619.4 115.8 1624.4 116.9 C1629.4 118.1 1635.7 119.3 1642.0 120.7 C1648.3 122.1 1655.5 123.5 1662.2 125.3 C1668.9 127.0 1675.6 129.3 1682.3 131.3 C1689.1 133.3 1696.1 135.4 1702.5 137.1 C1708.9 138.8 1717.6 140.7 1720.6 141.4" fill="none" stroke="#f2564b" stroke-width="1.2" stroke-linejoin="round"/>
<line x1="926.3" y1="360.5" x2="1710.0" y2="111.8" stroke="#f23030" stroke-width="1.3"/>
<text x="1281.5" y="76.6" font-size="12" fill="#f2564b" font-family='"Liberation Sans", Arial, sans-serif' textLength="87.0" lengthAdjust="spacingAndGlyphs" stroke="#f2564b" stroke-width="0.3">78.60%(1.22912)</text>
<rect x="926" y="270.8" width="1" height="89.7" fill="#26a69a"/>
<rect x="923" y="274.1" width="7" height="74.8" fill="#26a69a"/>
<rect x="937" y="272.1" width="1" height="65.0" fill="#ef5350"/>
<rect x="934" y="277.1" width="7" height="53.7" fill="#ef5350"/>
<rect x="948" y="305.1" width="1" height="32.7" fill="#26a69a"/>
<rect x="945" y="308.9" width="7" height="21.9" fill="#26a69a"/>
<rect x="959" y="298.8" width="1" height="31.2" fill="#ef5350"/>
<rect x="956" y="306.1" width="7" height="13.9" fill="#ef5350"/>
<rect x="970" y="314.9" width="1" height="30.2" fill="#ef5350"/>
<rect x="967" y="320.7" width="7" height="8.1" fill="#ef5350"/>
<rect x="980" y="293.8" width="1" height="37.0" fill="#26a69a"/>
<rect x="977" y="300.6" width="7" height="28.2" fill="#26a69a"/>
<rect x="991" y="300.6" width="1" height="37.8" fill="#ef5350"/>
<rect x="988" y="302.6" width="7" height="23.2" fill="#ef5350"/>
<rect x="1002" y="314.9" width="1" height="21.7" fill="#ef5350"/>
<rect x="999" y="327.0" width="7" height="2.5" fill="#ef5350"/>
<rect x="1013" y="295.0" width="1" height="37.8" fill="#26a69a"/>
<rect x="1010" y="313.9" width="7" height="17.4" fill="#26a69a"/>
<rect x="1024" y="272.1" width="1" height="47.9" fill="#26a69a"/>
<rect x="1021" y="279.2" width="7" height="36.5" fill="#26a69a"/>
<rect x="1035" y="230.0" width="1" height="50.9" fill="#26a69a"/>
<rect x="1032" y="247.2" width="7" height="30.7" fill="#26a69a"/>
<rect x="1046" y="224.0" width="1" height="36.8" fill="#ef5350"/>
<rect x="1043" y="246.4" width="7" height="7.1" fill="#ef5350"/>
<rect x="1057" y="235.8" width="1" height="33.3" fill="#ef5350"/>
<rect x="1054" y="257.0" width="7" height="10.8" fill="#ef5350"/>
<rect x="1068" y="236.8" width="1" height="32.2" fill="#26a69a"/>
<rect x="1065" y="259.0" width="7" height="6.8" fill="#26a69a"/>
<rect x="1079" y="245.2" width="1" height="20.7" fill="#26a69a"/>
<rect x="1076" y="255.2" width="7" height="5.5" fill="#26a69a"/>
<rect x="1089" y="233.1" width="1" height="22.9" fill="#26a69a"/>
<rect x="1086" y="245.2" width="7" height="10.8" fill="#26a69a"/>
<rect x="1100" y="219.0" width="1" height="27.2" fill="#26a69a"/>
<rect x="1097" y="223.3" width="7" height="22.9" fill="#26a69a"/>
<rect x="1111" y="182.4" width="1" height="45.3" fill="#26a69a"/>
<rect x="1108" y="184.2" width="7" height="41.6" fill="#26a69a"/>
<rect x="1122" y="140.1" width="1" height="46.1" fill="#26a69a"/>
<rect x="1119" y="163.1" width="7" height="23.2" fill="#26a69a"/>
<rect x="1133" y="138.4" width="1" height="39.0" fill="#26a69a"/>
<rect x="1130" y="161.0" width="7" height="2.5" fill="#26a69a"/>
<rect x="1144" y="147.2" width="1" height="27.2" fill="#26a69a"/>
<rect x="1141" y="151.0" width="7" height="10.8" fill="#26a69a"/>
<rect x="1155" y="130.0" width="1" height="36.5" fill="#ef5350"/>
<rect x="1152" y="152.2" width="7" height="7.6" fill="#ef5350"/>
<rect x="1166" y="138.4" width="1" height="27.2" fill="#26a69a"/>
<rect x="1163" y="140.9" width="7" height="19.6" fill="#26a69a"/>
<rect x="1177" y="122.0" width="1" height="40.3" fill="#ef5350"/>
<rect x="1174" y="140.9" width="7" height="11.8" fill="#ef5350"/>
<rect x="1187" y="138.4" width="1" height="29.5" fill="#ef5350"/>
<rect x="1184" y="150.5" width="7" height="1.0" fill="#ef5350"/>
<rect x="1198" y="140.9" width="1" height="29.0" fill="#26a69a"/>
<rect x="1195" y="152.2" width="7" height="1.8" fill="#26a69a"/>
<rect x="1209" y="145.9" width="1" height="45.3" fill="#ef5350"/>
<rect x="1206" y="151.0" width="7" height="37.8" fill="#ef5350"/>
<rect x="1220" y="164.1" width="1" height="27.2" fill="#26a69a"/>
<rect x="1217" y="173.1" width="7" height="16.9" fill="#26a69a"/>
<rect x="1231" y="153.0" width="1" height="22.4" fill="#26a69a"/>
<rect x="1228" y="153.0" width="7" height="21.2" fill="#26a69a"/>
<rect x="1242" y="154.2" width="1" height="24.4" fill="#ef5350"/>
<rect x="1239" y="156.8" width="7" height="16.9" fill="#ef5350"/>
<rect x="1253" y="144.2" width="1" height="31.2" fill="#26a69a"/>
<rect x="1250" y="148.9" width="7" height="24.7" fill="#26a69a"/>
<rect x="1264" y="148.4" width="1" height="39.0" fill="#ef5350"/>
<rect x="1261" y="148.9" width="7" height="36.8" fill="#ef5350"/>
<rect x="1275" y="142.9" width="1" height="50.9" fill="#26a69a"/>
<rect x="1272" y="145.9" width="7" height="39.8" fill="#26a69a"/>
<rect x="1286" y="138.4" width="1" height="30.7" fill="#ef5350"/>
<rect x="1283" y="142.9" width="7" height="9.8" fill="#ef5350"/>
<rect x="1296" y="142.1" width="1" height="14.6" fill="#26a69a"/>
<rect x="1293" y="148.9" width="7" height="2.8" fill="#26a69a"/>
<rect x="1307" y="130.3" width="1" height="28.7" fill="#26a69a"/>
<rect x="1304" y="130.3" width="7" height="20.2" fill="#26a69a"/>
<rect x="1318" y="93.0" width="1" height="44.8" fill="#26a69a"/>
<rect x="1315" y="103.1" width="7" height="28.5" fill="#26a69a"/>
<rect x="1329" y="95.0" width="1" height="19.4" fill="#ef5350"/>
<rect x="1326" y="101.1" width="7" height="4.5" fill="#ef5350"/>
<rect x="1340" y="77.4" width="1" height="27.7" fill="#26a69a"/>
<rect x="1337" y="80.4" width="7" height="20.2" fill="#26a69a"/>
<rect x="1351" y="79.2" width="1" height="22.7" fill="#ef5350"/>
<rect x="1348" y="86.0" width="7" height="7.6" fill="#ef5350"/>
<rect x="1362" y="69.8" width="1" height="23.7" fill="#26a69a"/>
<rect x="1359" y="86.0" width="7" height="7.6" fill="#26a69a"/>
<rect x="1373" y="62.8" width="1" height="28.2" fill="#ef5350"/>
<rect x="1370" y="82.4" width="7" height="4.3" fill="#ef5350"/>
<rect x="1384" y="82.4" width="1" height="29.5" fill="#ef5350"/>
<rect x="1381" y="85.5" width="7" height="26.5" fill="#ef5350"/>
<rect x="1394" y="91.0" width="1" height="24.7" fill="#26a69a"/>
<rect x="1391" y="94.3" width="7" height="16.4" fill="#26a69a"/>
<rect x="1405" y="91.8" width="1" height="23.2" fill="#ef5350"/>
<rect x="1402" y="95.0" width="7" height="6.8" fill="#ef5350"/>
<rect x="1416" y="101.3" width="1" height="31.5" fill="#ef5350"/>
<rect x="1413" y="101.8" width="7" height="13.9" fill="#ef5350"/>
<rect x="1427" y="98.1" width="1" height="22.7" fill="#26a69a"/>
<rect x="1424" y="103.1" width="7" height="15.9" fill="#26a69a"/>
<rect x="1438" y="93.5" width="1" height="27.2" fill="#ef5350"/>
<rect x="1435" y="102.3" width="7" height="2.5" fill="#ef5350"/>
<rect x="1449" y="82.2" width="1" height="31.5" fill="#ef5350"/>
<rect x="1446" y="104.4" width="7" height="8.3" fill="#ef5350"/>
<rect x="1460" y="104.4" width="1" height="38.3" fill="#ef5350"/>
<rect x="1457" y="111.9" width="7" height="29.0" fill="#ef5350"/>
<rect x="1471" y="126.3" width="1" height="26.5" fill="#26a69a"/>
<rect x="1468" y="132.1" width="7" height="6.8" fill="#26a69a"/>
<rect x="1482" y="126.3" width="1" height="20.4" fill="#ef5350"/>
<rect x="1479" y="133.3" width="7" height="8.3" fill="#ef5350"/>
<rect x="1493" y="133.3" width="1" height="29.0" fill="#ef5350"/>
<rect x="1490" y="145.9" width="7" height="15.1" fill="#ef5350"/>
<rect x="1503" y="159.3" width="1" height="16.9" fill="#ef5350"/>
<rect x="1500" y="160.3" width="7" height="5.8" fill="#ef5350"/>
<rect x="1514" y="135.8" width="1" height="34.0" fill="#26a69a"/>
<rect x="1511" y="142.1" width="7" height="24.4" fill="#26a69a"/>
<rect x="1525" y="125.0" width="1" height="21.7" fill="#26a69a"/>
<rect x="1522" y="127.0" width="7" height="16.4" fill="#26a69a"/>
<rect x="1536" y="106.1" width="1" height="28.5" fill="#26a69a"/>
<rect x="1533" y="107.4" width="7" height="22.7" fill="#26a69a"/>
<rect x="1547" y="98.1" width="1" height="23.9" fill="#ef5350"/>
<rect x="1544" y="108.1" width="7" height="13.4" fill="#ef5350"/>
<rect x="1558" y="94.3" width="1" height="32.2" fill="#26a69a"/>
<rect x="1555" y="96.3" width="7" height="22.4" fill="#26a69a"/>
<rect x="1569" y="91.8" width="1" height="24.4" fill="#ef5350"/>
<rect x="1566" y="96.3" width="7" height="3.5" fill="#ef5350"/>
<rect x="1580" y="81.7" width="1" height="21.4" fill="#26a69a"/>
<rect x="1577" y="93.0" width="7" height="6.8" fill="#26a69a"/>
<rect x="1591" y="77.9" width="1" height="23.9" fill="#26a69a"/>
<rect x="1588" y="91.0" width="7" height="3.8" fill="#26a69a"/>
<rect x="1601" y="80.4" width="1" height="26.5" fill="#ef5350"/>
<rect x="1598" y="89.2" width="7" height="6.8" fill="#ef5350"/>
<rect x="1612" y="85.5" width="1" height="23.4" fill="#ef5350"/>
<rect x="1609" y="96.0" width="7" height="9.6" fill="#ef5350"/>
<rect x="1623" y="98.1" width="1" height="52.9" fill="#ef5350"/>
<rect x="1620" y="105.1" width="7" height="44.1" fill="#ef5350"/>
<rect x="1634" y="128.3" width="1" height="22.7" fill="#26a69a"/>
<rect x="1631" y="135.1" width="7" height="14.6" fill="#26a69a"/>
<rect x="1645" y="132.1" width="1" height="25.9" fill="#ef5350"/>
<rect x="1642" y="136.6" width="7" height="11.3" fill="#ef5350"/>
<rect x="1656" y="142.1" width="1" height="20.9" fill="#26a69a"/>
<rect x="1653" y="145.4" width="7" height="2.5" fill="#26a69a"/>
<rect x="1667" y="145.2" width="1" height="18.4" fill="#ef5350"/>
<rect x="1664" y="146.4" width="7" height="12.6" fill="#ef5350"/>
<rect x="1678" y="152.7" width="1" height="15.4" fill="#ef5350"/>
<rect x="1675" y="157.3" width="7" height="7.6" fill="#ef5350"/>
<rect x="1689" y="139.6" width="1" height="25.9" fill="#26a69a"/>
<rect x="1686" y="147.2" width="7" height="17.1" fill="#26a69a"/>
<rect x="1700" y="140.9" width="1" height="26.5" fill="#ef5350"/>
<rect x="1697" y="147.2" width="7" height="19.6" fill="#ef5350"/>
<rect x="1710" y="158.0" width="1" height="17.6" fill="#26a69a"/>
<rect x="1707" y="159.3" width="7" height="7.6" fill="#26a69a"/>
<rect x="1721" y="158.0" width="1" height="18.1" fill="#ef5350"/>
<rect x="1718" y="159.3" width="7" height="14.4" fill="#ef5350"/>
<rect x="1114.7" y="217.0" width="649.0" height="2.8" fill="#1b5e20"/>
<rect x="1504.0" y="172.4" width="259.7" height="3.2" fill="#1b5e20"/>
<line x1="1504.0" y1="173.9" x2="1763.7" y2="173.9" stroke="#ff5a3c" stroke-width="1.3" stroke-dasharray="1.2 2.2"/>
<rect x="1637.0" y="137.0" width="126.7" height="3.0" fill="#b71c1c"/>
<text x="1550.6" y="142.0" font-size="12" fill="#f2564b" font-family='"Liberation Sans", Arial, sans-serif' textLength="36.0" lengthAdjust="spacingAndGlyphs" stroke="#f2564b" stroke-width="0.3">38.20%</text>
<text x="1412.8" y="167.7" font-size="12" fill="#2a2ae8" font-family='"Liberation Sans", Arial, sans-serif' textLength="87.0" lengthAdjust="spacingAndGlyphs" stroke="#2a2ae8" stroke-width="0.3">78.60%(1.17667)</text>
<path d="M1472.4 231.1 H1550.6 L1558.3 220.6 L1566.4 231.1 H1644 a8 8 0 0 1 8 8 V279.4 a8 8 0 0 1 -8 8 H1472.4 a8 8 0 0 1 -8 -8 V239.1 a8 8 0 0 1 8 -8 Z" fill="#f6cfd0" stroke="#ea8f8f" stroke-width="1"/>
<text x="1475.0" y="251.0" font-size="11.5" fill="#1e222d" font-family='"DejaVu Sans", Verdana, sans-serif' textLength="81.5" lengthAdjust="spacingAndGlyphs">Daily Support</text>
<text x="1475.0" y="262.8" font-size="11.5" fill="#1e222d" font-family='"DejaVu Sans", Verdana, sans-serif' textLength="162.5" lengthAdjust="spacingAndGlyphs">50% fibonacci retracement</text>
<text x="1475.0" y="274.6" font-size="11.5" fill="#1e222d" font-family='"DejaVu Sans", Verdana, sans-serif' textLength="166.5" lengthAdjust="spacingAndGlyphs">127.2% fibonacci extension</text>
</g>
<text x="928.9" y="46.3" font-size="12.2" fill="#131722" font-family='"Liberation Sans", Arial, sans-serif' textLength="121.0" lengthAdjust="spacingAndGlyphs">Euro / U.S. Dollar, 1W,</text>
<text x="1090.0" y="46.3" font-size="11.6" fill="#131722" font-family='"Liberation Sans", Arial, sans-serif'>O</text>
<text x="1099.0" y="46.3" font-size="11.8" fill="#ef5350" font-family='"Liberation Sans", Arial, sans-serif' textLength="41.5" lengthAdjust="spacingAndGlyphs" stroke="#ef5350" stroke-width="0.3">1.17943</text>
<text x="1147.3" y="46.3" font-size="11.6" fill="#131722" font-family='"Liberation Sans", Arial, sans-serif'>H</text>
<text x="1156.0" y="46.3" font-size="11.8" fill="#ef5350" font-family='"Liberation Sans", Arial, sans-serif' textLength="41.5" lengthAdjust="spacingAndGlyphs" stroke="#ef5350" stroke-width="0.3">1.18010</text>
<text x="1205.0" y="46.3" font-size="11.6" fill="#131722" font-family='"Liberation Sans", Arial, sans-serif'>L</text>
<text x="1212.2" y="46.3" font-size="11.8" fill="#ef5350" font-family='"Liberation Sans", Arial, sans-serif' textLength="41.5" lengthAdjust="spacingAndGlyphs" stroke="#ef5350" stroke-width="0.3">1.17018</text>
<text x="1260.5" y="46.3" font-size="11.6" fill="#131722" font-family='"Liberation Sans", Arial, sans-serif'>C</text>
<text x="1268.8" y="46.3" font-size="11.8" fill="#ef5350" font-family='"Liberation Sans", Arial, sans-serif' textLength="41.5" lengthAdjust="spacingAndGlyphs" stroke="#ef5350" stroke-width="0.3">1.17130</text>
<text x="1317.0" y="46.3" font-size="11.8" fill="#ef5350" font-family='"Liberation Sans", Arial, sans-serif' textLength="97.5" lengthAdjust="spacingAndGlyphs" stroke="#ef5350" stroke-width="0.3">−0.00819 (−0.69%)</text>
<text x="928.9" y="62.7" font-size="12.2" fill="#131722" font-family='"Liberation Sans", Arial, sans-serif' textLength="96.5" lengthAdjust="spacingAndGlyphs">EMA (20, close, 0)</text>
<text x="1033.4" y="62.7" font-size="11.8" fill="#ef5350" font-family='"Liberation Sans", Arial, sans-serif' textLength="41.5" lengthAdjust="spacingAndGlyphs" stroke="#ef5350" stroke-width="0.3">1.18993</text>
<text x="928.9" y="80.3" font-size="12.2" fill="#131722" font-family='"Liberation Sans", Arial, sans-serif' textLength="90.0" lengthAdjust="spacingAndGlyphs">MA (50, close, 0)</text>
<text x="1027.6" y="80.3" font-size="11.8" fill="#2196f3" font-family='"Liberation Sans", Arial, sans-serif' textLength="41.5" lengthAdjust="spacingAndGlyphs" stroke="#2196f3" stroke-width="0.3">1.19584</text>
<g clip-path="url(#cTa)">
<line x1="1763.7" y1="54.3" x2="1768.2" y2="54.3" stroke="#d3d5dc" stroke-width="1"/>
<text x="1773.6" y="58.6" font-size="12.2" fill="#131722" font-family='"Liberation Sans", Arial, sans-serif' textLength="41.6" lengthAdjust="spacingAndGlyphs">1.24000</text>
<line x1="1763.7" y1="89.0" x2="1768.2" y2="89.0" stroke="#d3d5dc" stroke-width="1"/>
<text x="1773.6" y="93.3" font-size="12.2" fill="#131722" font-family='"Liberation Sans", Arial, sans-serif' textLength="41.6" lengthAdjust="spacingAndGlyphs">1.22000</text>
<line x1="1763.7" y1="123.7" x2="1768.2" y2="123.7" stroke="#d3d5dc" stroke-width="1"/>
<text x="1773.6" y="128.0" font-size="12.2" fill="#131722" font-family='"Liberation Sans", Arial, sans-serif' textLength="41.6" lengthAdjust="spacingAndGlyphs">1.20000</text>
<line x1="1763.7" y1="158.4" x2="1768.2" y2="158.4" stroke="#d3d5dc" stroke-width="1"/>
<text x="1773.6" y="162.7" font-size="12.2" fill="#131722" font-family='"Liberation Sans", Arial, sans-serif' textLength="41.6" lengthAdjust="spacingAndGlyphs">1.18000</text>
<line x1="1763.7" y1="193.1" x2="1768.2" y2="193.1" stroke="#d3d5dc" stroke-width="1"/>
<text x="1773.6" y="197.4" font-size="12.2" fill="#131722" font-family='"Liberation Sans", Arial, sans-serif' textLength="41.6" lengthAdjust="spacingAndGlyphs">1.16000</text>
<line x1="1763.7" y1="227.9" x2="1768.2" y2="227.9" stroke="#d3d5dc" stroke-width="1"/>
<text x="1773.6" y="232.2" font-size="12.2" fill="#131722" font-family='"Liberation Sans", Arial, sans-serif' textLength="41.6" lengthAdjust="spacingAndGlyphs">1.14000</text>
<line x1="1763.7" y1="262.6" x2="1768.2" y2="262.6" stroke="#d3d5dc" stroke-width="1"/>
<text x="1773.6" y="266.9" font-size="12.2" fill="#131722" font-family='"Liberation Sans", Arial, sans-serif' textLength="41.6" lengthAdjust="spacingAndGlyphs">1.12000</text>
<line x1="1763.7" y1="297.3" x2="1768.2" y2="297.3" stroke="#d3d5dc" stroke-width="1"/>
<text x="1773.6" y="301.6" font-size="12.2" fill="#131722" font-family='"Liberation Sans", Arial, sans-serif' textLength="41.6" lengthAdjust="spacingAndGlyphs">1.10000</text>
<line x1="1763.7" y1="332.0" x2="1768.2" y2="332.0" stroke="#d3d5dc" stroke-width="1"/>
<text x="1773.6" y="336.3" font-size="12.2" fill="#131722" font-family='"Liberation Sans", Arial, sans-serif' textLength="41.6" lengthAdjust="spacingAndGlyphs">1.08000</text>
<line x1="1763.7" y1="366.7" x2="1768.2" y2="366.7" stroke="#d3d5dc" stroke-width="1"/>
<text x="1773.6" y="371.0" font-size="12.2" fill="#131722" font-family='"Liberation Sans", Arial, sans-serif' textLength="41.6" lengthAdjust="spacingAndGlyphs">1.06000</text>
</g>
<g clip-path="url(#cTb)">
<line x1="1763.7" y1="407.6" x2="1768.2" y2="407.6" stroke="#d3d5dc" stroke-width="1"/>
<text x="1773.6" y="411.9" font-size="12.2" fill="#131722" font-family='"Liberation Sans", Arial, sans-serif' textLength="35.3" lengthAdjust="spacingAndGlyphs">100.00</text>
</g>
<rect x="1781.5" y="33.5" width="27.2" height="18.2" rx="4" fill="#ffffff" stroke="#d5d8e2" stroke-width="1"/>
<text x="1795.1" y="46.9" font-size="12" fill="#131722" font-family='"Liberation Sans", Arial, sans-serif' text-anchor="middle" textLength="20.5" lengthAdjust="spacingAndGlyphs">USD</text>
<path d="M1763.7 66.0 h56.0 a2 2 0 0 1 2 2 v13.0 a2 2 0 0 1 -2 2 h-56.0 z" fill="#f33c30"/>
<line x1="1763.7" y1="74.5" x2="1768.2" y2="74.5" stroke="#ffffff" stroke-width="1"/>
<text x="1773.6" y="78.8" font-size="12.2" fill="#ffffff" font-family='"Liberation Sans", Arial, sans-serif' font-weight="bold" textLength="41.6" lengthAdjust="spacingAndGlyphs">1.22900</text>
<path d="M1763.7 130.2 h56.0 a2 2 0 0 1 2 2 v13.0 a2 2 0 0 1 -2 2 h-56.0 z" fill="#b71c1c"/>
<line x1="1763.7" y1="138.7" x2="1768.2" y2="138.7" stroke="#ffffff" stroke-width="1"/>
<text x="1773.6" y="143.0" font-size="12.2" fill="#ffffff" font-family='"Liberation Sans", Arial, sans-serif' font-weight="bold" textLength="41.6" lengthAdjust="spacingAndGlyphs">1.19190</text>
<path d="M1763.7 148.3 h56.0 a2 2 0 0 1 2 2 v13.0 a2 2 0 0 1 -2 2 h-56.0 z" fill="#ef5350"/>
<line x1="1763.7" y1="156.8" x2="1768.2" y2="156.8" stroke="#ffffff" stroke-width="1"/>
<text x="1773.6" y="161.1" font-size="12.2" fill="#ffffff" font-family='"Liberation Sans", Arial, sans-serif' font-weight="bold" textLength="41.6" lengthAdjust="spacingAndGlyphs">1.17130</text>
<path d="M1763.7 165.2 h56.0 a2 2 0 0 1 2 2 v13.0 a2 2 0 0 1 -2 2 h-56.0 z" fill="#1b5e20"/>
<line x1="1763.7" y1="173.7" x2="1768.2" y2="173.7" stroke="#ffffff" stroke-width="1"/>
<text x="1773.6" y="178.0" font-size="12.2" fill="#ffffff" font-family='"Liberation Sans", Arial, sans-serif' font-weight="bold" textLength="41.6" lengthAdjust="spacingAndGlyphs">1.17130</text>
<path d="M1763.7 210.0 h56.0 a2 2 0 0 1 2 2 v13.0 a2 2 0 0 1 -2 2 h-56.0 z" fill="#1b5e20"/>
<line x1="1763.7" y1="218.5" x2="1768.2" y2="218.5" stroke="#ffffff" stroke-width="1"/>
<text x="1773.6" y="222.8" font-size="12.2" fill="#ffffff" font-family='"Liberation Sans", Arial, sans-serif' font-weight="bold" textLength="41.6" lengthAdjust="spacingAndGlyphs">1.14578</text>
<line x1="991.8" y1="422.7" x2="991.8" y2="425.7" stroke="#d3d5dc" stroke-width="1"/>
<text x="991.8" y="439.6" font-size="11.5" fill="#131722" font-family='"Liberation Sans", Arial, sans-serif' text-anchor="middle">May</text>
<line x1="1090.0" y1="422.7" x2="1090.0" y2="425.7" stroke="#d3d5dc" stroke-width="1"/>
<text x="1090.0" y="439.6" font-size="11.5" fill="#131722" font-family='"Liberation Sans", Arial, sans-serif' text-anchor="middle">Jul</text>
<line x1="1187.8" y1="422.7" x2="1187.8" y2="425.7" stroke="#d3d5dc" stroke-width="1"/>
<text x="1187.8" y="439.6" font-size="11.5" fill="#131722" font-family='"Liberation Sans", Arial, sans-serif' text-anchor="middle" textLength="19.0" lengthAdjust="spacingAndGlyphs">Sep</text>
<line x1="1275.2" y1="422.7" x2="1275.2" y2="425.7" stroke="#d3d5dc" stroke-width="1"/>
<text x="1275.2" y="439.6" font-size="11.5" fill="#131722" font-family='"Liberation Sans", Arial, sans-serif' text-anchor="middle" textLength="19.4" lengthAdjust="spacingAndGlyphs">Nov</text>
<line x1="1373.4" y1="422.7" x2="1373.4" y2="425.7" stroke="#d3d5dc" stroke-width="1"/>
<text x="1373.4" y="439.6" font-size="11.5" fill="#131722" font-family='"Liberation Sans", Arial, sans-serif' text-anchor="middle" font-weight="bold" textLength="25.2" lengthAdjust="spacingAndGlyphs">2021</text>
<line x1="1459.9" y1="422.7" x2="1459.9" y2="425.7" stroke="#d3d5dc" stroke-width="1"/>
<text x="1459.9" y="439.6" font-size="11.5" fill="#131722" font-family='"Liberation Sans", Arial, sans-serif' text-anchor="middle">Mar</text>
<line x1="1557.6" y1="422.7" x2="1557.6" y2="425.7" stroke="#d3d5dc" stroke-width="1"/>
<text x="1557.6" y="439.6" font-size="11.5" fill="#131722" font-family='"Liberation Sans", Arial, sans-serif' text-anchor="middle">May</text>
<line x1="1655.9" y1="422.7" x2="1655.9" y2="425.7" stroke="#d3d5dc" stroke-width="1"/>
<text x="1655.9" y="439.6" font-size="11.5" fill="#131722" font-family='"Liberation Sans", Arial, sans-serif' text-anchor="middle">Jul</text>
<line x1="1753.6" y1="422.7" x2="1753.6" y2="425.7" stroke="#d3d5dc" stroke-width="1"/>
<text x="1753.6" y="439.6" font-size="11.5" fill="#131722" font-family='"Liberation Sans", Arial, sans-serif' text-anchor="middle" textLength="19.0" lengthAdjust="spacingAndGlyphs">Sep</text>
<line x1="922.0" y1="802.5" x2="1827.0" y2="802.5" stroke="#dddee3" stroke-width="1"/>
<line x1="922.0" y1="818.3" x2="1827.0" y2="818.3" stroke="#dddee3" stroke-width="1"/>
<line x1="922.0" y1="834.2" x2="1827.0" y2="834.2" stroke="#dddee3" stroke-width="1"/>
<line x1="922.0" y1="850.0" x2="1827.0" y2="850.0" stroke="#dddee3" stroke-width="1"/>
<line x1="1757.5" y1="456.0" x2="1757.5" y2="874.0" stroke="#dddee3" stroke-width="1"/>
<g clip-path="url(#cB)">
<line x1="922.0" y1="700.5" x2="1757.5" y2="700.5" stroke="#26a69a" stroke-width="1" stroke-dasharray="1 3"/>
<rect x="922.0" y="705.5" width="835.5" height="8.0" fill="#bddcbe"/>
<rect x="1410.3" y="729.4" width="347.2" height="11.0" fill="#bddcbe"/>
<rect x="1463.7" y="628.3" width="293.8" height="3.6" fill="#f7c1c4"/>
<rect x="1493.4" y="657.8" width="264.1" height="2.6" fill="#f7c1c4"/>
<line x1="1088.0" y1="626.3" x2="1757.5" y2="626.3" stroke="#cda127" stroke-width="1" stroke-dasharray="1 2.5"/>
<line x1="1088.0" y1="655.3" x2="1757.5" y2="655.3" stroke="#f2564b" stroke-width="1" stroke-dasharray="1 2.5"/>
<line x1="1380.0" y1="631.1" x2="1757.5" y2="631.1" stroke="#f2564b" stroke-width="1" stroke-dasharray="1 2.5"/>
<line x1="1380.0" y1="659.3" x2="1757.5" y2="659.3" stroke="#f2564b" stroke-width="1" stroke-dasharray="1 2.5"/>
<line x1="1329.0" y1="713.3" x2="1757.5" y2="713.3" stroke="#2a2ae8" stroke-width="1" stroke-dasharray="1 2.5"/>
<line x1="1329.0" y1="741.5" x2="1757.5" y2="741.5" stroke="#2a2ae8" stroke-width="1" stroke-dasharray="1 2.5"/>
<line x1="1420.0" y1="729.4" x2="1757.5" y2="729.4" stroke="#3f8fd9" stroke-width="1" stroke-dasharray="1 2.5"/>
<line x1="922.0" y1="762.4" x2="1757.5" y2="762.4" stroke="#3f8fd9" stroke-width="1" stroke-dasharray="1 2.5"/>
<line x1="1091.3" y1="577.2" x2="1330.1" y2="681.6" stroke="#7c7f88" stroke-width="1.1" stroke-dasharray="1.2 1.6"/>
<line x1="1091.3" y1="577.2" x2="1528.7" y2="703.0" stroke="#7c7f88" stroke-width="1.1" stroke-dasharray="1.2 1.6"/>
<line x1="1330.1" y1="681.6" x2="1423.4" y2="608.7" stroke="#7c7f88" stroke-width="1.1" stroke-dasharray="1.2 1.6"/>
<line x1="1423.4" y1="608.7" x2="1528.7" y2="703.0" stroke="#5b9be6" stroke-width="1.3" stroke-dasharray="1.4 1.8"/>
<path d="M921.3 488.3 C924.4 488.3 933.7 487.7 940.2 488.3 C946.7 488.8 953.0 490.6 960.3 491.6 C967.7 492.5 977.6 492.0 984.3 494.1 C991.0 496.2 994.1 499.5 1000.7 504.2 C1007.2 508.8 1016.6 517.2 1023.3 521.8 C1030.0 526.4 1033.8 528.1 1041.0 531.9 C1048.1 535.7 1057.8 540.9 1066.2 544.5 C1074.5 548.0 1082.9 550.3 1091.3 553.3 C1099.7 556.2 1108.1 558.3 1116.5 562.1 C1124.9 565.9 1133.3 572.2 1141.7 576.0 C1150.1 579.7 1158.5 581.2 1166.9 584.8 C1175.3 588.3 1185.4 594.5 1192.1 597.4 C1198.8 600.2 1200.1 600.4 1207.2 601.9 C1214.4 603.5 1227.8 604.8 1234.9 606.7 C1242.1 608.6 1244.6 611.5 1250.0 613.2 C1255.5 615.0 1260.5 615.3 1267.7 617.0 C1274.8 618.8 1284.5 621.5 1292.9 623.8 C1301.3 626.1 1309.7 628.4 1318.1 630.9 C1326.5 633.4 1336.1 637.0 1343.3 638.9 C1350.4 640.9 1355.6 642.0 1360.9 642.7 C1366.2 643.5 1368.5 643.9 1375.0 643.5 C1381.5 643.1 1391.8 641.2 1400.2 640.2 C1408.6 639.2 1417.0 638.1 1425.4 637.7 C1433.8 637.3 1442.2 637.0 1450.6 637.7 C1459.0 638.3 1468.6 640.2 1475.8 641.5 C1482.9 642.7 1486.7 643.1 1493.4 645.2 C1500.1 647.3 1508.5 651.7 1516.1 654.1 C1523.6 656.4 1530.3 658.1 1538.7 659.1 C1547.1 660.1 1557.2 658.6 1566.5 659.8 C1575.7 661.1 1589.5 665.5 1594.2 666.6" fill="none" stroke="#cfa32b" stroke-width="1.2" stroke-linejoin="round"/>
<text x="998.9" y="630.5" font-size="12" fill="#cda127" font-family='"Liberation Sans", Arial, sans-serif' textLength="87.4" lengthAdjust="spacingAndGlyphs" stroke="#cda127" stroke-width="0.3">61.80%(1.18724)</text>
<text x="999.9" y="659.5" font-size="12" fill="#f2564b" font-family='"Liberation Sans", Arial, sans-serif' textLength="86.6" lengthAdjust="spacingAndGlyphs" stroke="#f2564b" stroke-width="0.3">38.20%(1.18088)</text>
<text x="1376.5" y="634.8" font-size="12" fill="#f2564b" font-family='"Liberation Sans", Arial, sans-serif' textLength="42.5" lengthAdjust="spacingAndGlyphs" stroke="#f2564b" stroke-width="0.3">100.00%</text>
<text x="1382.3" y="662.8" font-size="12" fill="#f2564b" font-family='"Liberation Sans", Arial, sans-serif' textLength="36.0" lengthAdjust="spacingAndGlyphs" stroke="#f2564b" stroke-width="0.3">61.80%</text>
<rect x="919" y="475.2" width="1" height="12.6" fill="#ef5350"/>
<rect x="915" y="478.5" width="9" height="6.8" fill="#ef5350"/>
<rect x="932" y="463.9" width="1" height="23.4" fill="#26a69a"/>
<rect x="928" y="482.7" width="9" height="3.8" fill="#26a69a"/>
<rect x="945" y="475.2" width="1" height="24.4" fill="#ef5350"/>
<rect x="941" y="482.7" width="9" height="5.0" fill="#ef5350"/>
<rect x="959" y="475.9" width="1" height="47.9" fill="#ef5350"/>
<rect x="955" y="487.8" width="9" height="29.0" fill="#ef5350"/>
<rect x="972" y="504.9" width="1" height="18.1" fill="#26a69a"/>
<rect x="968" y="511.2" width="9" height="5.5" fill="#26a69a"/>
<rect x="985" y="497.1" width="1" height="22.7" fill="#26a69a"/>
<rect x="981" y="507.4" width="9" height="4.3" fill="#26a69a"/>
<rect x="998" y="502.9" width="1" height="68.0" fill="#ef5350"/>
<rect x="994" y="507.2" width="9" height="62.5" fill="#ef5350"/>
<rect x="1012" y="563.4" width="1" height="54.2" fill="#ef5350"/>
<rect x="1008" y="569.2" width="9" height="41.3" fill="#ef5350"/>
<rect x="1025" y="601.2" width="1" height="36.5" fill="#ef5350"/>
<rect x="1021" y="610.0" width="9" height="20.7" fill="#ef5350"/>
<rect x="1038" y="602.9" width="1" height="34.8" fill="#26a69a"/>
<rect x="1034" y="604.9" width="9" height="28.5" fill="#26a69a"/>
<rect x="1051" y="588.1" width="1" height="34.5" fill="#26a69a"/>
<rect x="1047" y="596.1" width="9" height="9.6" fill="#26a69a"/>
<rect x="1065" y="580.2" width="1" height="27.7" fill="#ef5350"/>
<rect x="1061" y="596.1" width="9" height="5.5" fill="#ef5350"/>
<rect x="1078" y="586.0" width="1" height="18.9" fill="#26a69a"/>
<rect x="1074" y="598.1" width="9" height="3.8" fill="#26a69a"/>
<rect x="1091" y="577.2" width="1" height="23.4" fill="#26a69a"/>
<rect x="1087" y="596.1" width="9" height="2.5" fill="#26a69a"/>
<rect x="1105" y="592.3" width="1" height="20.2" fill="#ef5350"/>
<rect x="1101" y="598.1" width="9" height="5.5" fill="#ef5350"/>
<rect x="1118" y="599.1" width="1" height="24.7" fill="#ef5350"/>
<rect x="1114" y="602.9" width="9" height="12.6" fill="#ef5350"/>
<rect x="1131" y="609.2" width="1" height="29.7" fill="#ef5350"/>
<rect x="1127" y="615.0" width="9" height="18.9" fill="#ef5350"/>
<rect x="1144" y="620.0" width="1" height="22.7" fill="#ef5350"/>
<rect x="1140" y="633.1" width="9" height="4.5" fill="#ef5350"/>
<rect x="1158" y="625.6" width="1" height="31.0" fill="#26a69a"/>
<rect x="1154" y="630.1" width="9" height="7.6" fill="#26a69a"/>
<rect x="1171" y="622.6" width="1" height="13.1" fill="#ef5350"/>
<rect x="1167" y="629.4" width="9" height="3.3" fill="#ef5350"/>
<rect x="1184" y="615.0" width="1" height="41.6" fill="#ef5350"/>
<rect x="1180" y="632.1" width="9" height="16.4" fill="#ef5350"/>
<rect x="1197" y="642.0" width="1" height="26.7" fill="#ef5350"/>
<rect x="1193" y="648.3" width="9" height="16.4" fill="#ef5350"/>
<rect x="1211" y="628.9" width="1" height="39.0" fill="#26a69a"/>
<rect x="1207" y="640.2" width="9" height="24.4" fill="#26a69a"/>
<rect x="1224" y="621.3" width="1" height="27.7" fill="#26a69a"/>
<rect x="1220" y="623.1" width="9" height="17.6" fill="#26a69a"/>
<rect x="1237" y="622.6" width="1" height="21.4" fill="#ef5350"/>
<rect x="1233" y="627.1" width="9" height="5.5" fill="#ef5350"/>
<rect x="1250" y="623.8" width="1" height="49.1" fill="#ef5350"/>
<rect x="1246" y="632.1" width="9" height="39.6" fill="#ef5350"/>
<rect x="1264" y="641.5" width="1" height="31.5" fill="#26a69a"/>
<rect x="1260" y="643.2" width="9" height="28.5" fill="#26a69a"/>
<rect x="1277" y="636.4" width="1" height="25.2" fill="#ef5350"/>
<rect x="1273" y="643.2" width="9" height="11.3" fill="#ef5350"/>
<rect x="1290" y="649.0" width="1" height="14.6" fill="#ef5350"/>
<rect x="1286" y="654.1" width="9" height="5.5" fill="#ef5350"/>
<rect x="1303" y="648.3" width="1" height="28.5" fill="#ef5350"/>
<rect x="1299" y="656.1" width="9" height="5.5" fill="#ef5350"/>
<rect x="1317" y="658.3" width="1" height="22.5" fill="#ef5350"/>
<rect x="1313" y="661.1" width="9" height="9.3" fill="#ef5350"/>
<rect x="1330" y="657.1" width="1" height="25.7" fill="#26a69a"/>
<rect x="1326" y="664.1" width="9" height="6.3" fill="#26a69a"/>
<rect x="1343" y="644.7" width="1" height="35.1" fill="#ef5350"/>
<rect x="1339" y="664.1" width="9" height="9.6" fill="#ef5350"/>
<rect x="1356" y="666.1" width="1" height="15.5" fill="#ef5350"/>
<rect x="1352" y="672.9" width="9" height="2.5" fill="#ef5350"/>
<rect x="1370" y="650.3" width="1" height="27.7" fill="#26a69a"/>
<rect x="1366" y="657.8" width="9" height="15.6" fill="#26a69a"/>
<rect x="1383" y="640.2" width="1" height="34.0" fill="#26a69a"/>
<rect x="1379" y="651.5" width="9" height="7.6" fill="#26a69a"/>
<rect x="1396" y="635.2" width="1" height="37.8" fill="#26a69a"/>
<rect x="1392" y="638.9" width="9" height="13.4" fill="#26a69a"/>
<rect x="1410" y="616.3" width="1" height="25.2" fill="#26a69a"/>
<rect x="1406" y="620.5" width="9" height="19.6" fill="#26a69a"/>
<rect x="1423" y="610.0" width="1" height="25.7" fill="#ef5350"/>
<rect x="1419" y="620.5" width="9" height="7.8" fill="#ef5350"/>
<rect x="1436" y="615.0" width="1" height="18.1" fill="#ef5350"/>
<rect x="1432" y="628.4" width="9" height="1.0" fill="#ef5350"/>
<rect x="1449" y="616.3" width="1" height="17.6" fill="#ef5350"/>
<rect x="1445" y="628.1" width="9" height="3.3" fill="#ef5350"/>
<rect x="1463" y="613.2" width="1" height="30.7" fill="#ef5350"/>
<rect x="1459" y="629.6" width="9" height="13.1" fill="#ef5350"/>
<rect x="1476" y="632.6" width="1" height="13.9" fill="#ef5350"/>
<rect x="1472" y="642.2" width="9" height="2.5" fill="#ef5350"/>
<rect x="1489" y="642.7" width="1" height="38.9" fill="#ef5350"/>
<rect x="1485" y="644.0" width="9" height="35.5" fill="#ef5350"/>
<rect x="1502" y="674.0" width="1" height="17.6" fill="#ef5350"/>
<rect x="1498" y="679.0" width="9" height="10.6" fill="#ef5350"/>
<rect x="1516" y="685.8" width="1" height="17.1" fill="#ef5350"/>
<rect x="1512" y="689.1" width="9" height="10.1" fill="#ef5350"/>
<rect x="1529" y="680.8" width="1" height="22.9" fill="#26a69a"/>
<rect x="1525" y="689.1" width="9" height="10.1" fill="#26a69a"/>
<rect x="1542" y="682.8" width="1" height="13.1" fill="#ef5350"/>
<rect x="1538" y="689.1" width="9" height="3.8" fill="#ef5350"/>
<rect x="1555" y="657.1" width="1" height="36.3" fill="#26a69a"/>
<rect x="1551" y="662.2" width="9" height="30.7" fill="#26a69a"/>
<rect x="1569" y="658.9" width="1" height="16.9" fill="#ef5350"/>
<rect x="1565" y="662.2" width="9" height="8.6" fill="#ef5350"/>
<rect x="1582" y="665.9" width="1" height="37.8" fill="#ef5350"/>
<rect x="1578" y="670.2" width="9" height="32.7" fill="#ef5350"/>
<rect x="1595" y="699.2" width="1" height="6.8" fill="#26a69a"/>
<rect x="1591" y="700.5" width="9" height="3.0" fill="#26a69a"/>
<line x1="921.3" y1="468.1" x2="1634.4" y2="678.3" stroke="#b71c1c" stroke-width="2.3"/>
<rect x="1463.7" y="625.0" width="293.8" height="3.3" fill="#b71c1c"/>
<rect x="1493.4" y="654.5" width="264.1" height="3.3" fill="#b71c1c"/>
<rect x="922.0" y="703.2" width="835.5" height="2.6" fill="#1b5e20"/>
<rect x="1422.9" y="740.3" width="334.6" height="2.6" fill="#1b5e20"/>
<text x="1231.9" y="717.2" font-size="12" fill="#2a2ae8" font-family='"Liberation Sans", Arial, sans-serif' textLength="93.7" lengthAdjust="spacingAndGlyphs" stroke="#2a2ae8" stroke-width="0.3">100.00%(1.16851)</text>
<text x="1325.6" y="732.9" font-size="12" fill="#3f8fd9" font-family='"Liberation Sans", Arial, sans-serif' textLength="92.7" lengthAdjust="spacingAndGlyphs" stroke="#3f8fd9" stroke-width="0.3">−27.20%(1.16507)</text>
<text x="1231.9" y="745.0" font-size="12" fill="#2a2ae8" font-family='"Liberation Sans", Arial, sans-serif' textLength="93.7" lengthAdjust="spacingAndGlyphs" stroke="#2a2ae8" stroke-width="0.3">127.20%(1.16243)</text>
<text x="1749.0" y="617.5" font-size="17.6" fill="#b71c1c" font-family='"Liberation Serif", "Times New Roman", serif' text-anchor="end" font-weight="bold" textLength="136.0" lengthAdjust="spacingAndGlyphs" stroke="#b71c1c" stroke-width="0.15">2nd Resistance</text>
<text x="1749.0" y="647.2" font-size="17.6" fill="#b71c1c" font-family='"Liberation Serif", "Times New Roman", serif' text-anchor="end" font-weight="bold" textLength="129.7" lengthAdjust="spacingAndGlyphs" stroke="#b71c1c" stroke-width="0.15">1st Resistance</text>
<text x="1747.8" y="695.4" font-size="17.6" fill="#38761d" font-family='"Liberation Serif", "Times New Roman", serif' text-anchor="end" font-weight="bold" textLength="103.3" lengthAdjust="spacingAndGlyphs" stroke="#38761d" stroke-width="0.15">1st Support</text>
<text x="1747.8" y="733.7" font-size="17.6" fill="#38761d" font-family='"Liberation Serif", "Times New Roman", serif' text-anchor="end" font-weight="bold" textLength="108.3" lengthAdjust="spacingAndGlyphs" stroke="#38761d" stroke-width="0.15">2nd Support</text>
<path d="M1532.4 530.6 H1712.1 a8 8 0 0 1 8 8 V579.3 a8 8 0 0 1 -8 8 H1629.4 L1608.8 617 L1613.8 587.3 H1532.4 a8 8 0 0 1 -8 -8 V538.6 a8 8 0 0 1 8 -8 Z" fill="#f6cfd0" stroke="#ea8f8f" stroke-width="1"/>
<text x="1535.5" y="550.0" font-size="11.5" fill="#1e222d" font-family='"DejaVu Sans", Verdana, sans-serif' textLength="97.5" lengthAdjust="spacingAndGlyphs">Daily Resistance</text>
<text x="1535.5" y="561.6" font-size="11.5" fill="#1e222d" font-family='"DejaVu Sans", Verdana, sans-serif' textLength="174.0" lengthAdjust="spacingAndGlyphs">61.8% fibonacci retracement</text>
<text x="1535.5" y="573.4" font-size="11.5" fill="#1e222d" font-family='"DejaVu Sans", Verdana, sans-serif' textLength="154.0" lengthAdjust="spacingAndGlyphs">100% fibonacci extension</text>
</g>
<text x="929.4" y="473.8" font-size="12.2" fill="#131722" font-family='"Liberation Sans", Arial, sans-serif' textLength="118.5" lengthAdjust="spacingAndGlyphs">Euro / U.S. Dollar, 1D,</text>
<text x="1088.8" y="473.8" font-size="11.6" fill="#131722" font-family='"Liberation Sans", Arial, sans-serif'>O</text>
<text x="1097.6" y="473.8" font-size="11.8" fill="#26a69a" font-family='"Liberation Sans", Arial, sans-serif' textLength="41.5" lengthAdjust="spacingAndGlyphs" stroke="#26a69a" stroke-width="0.3">1.17083</text>
<text x="1146.0" y="473.8" font-size="11.6" fill="#131722" font-family='"Liberation Sans", Arial, sans-serif'>H</text>
<text x="1154.6" y="473.8" font-size="11.8" fill="#26a69a" font-family='"Liberation Sans", Arial, sans-serif' textLength="41.5" lengthAdjust="spacingAndGlyphs" stroke="#26a69a" stroke-width="0.3">1.17145</text>
<text x="1203.6" y="473.8" font-size="11.6" fill="#131722" font-family='"Liberation Sans", Arial, sans-serif'>L</text>
<text x="1210.8" y="473.8" font-size="11.8" fill="#26a69a" font-family='"Liberation Sans", Arial, sans-serif' textLength="41.5" lengthAdjust="spacingAndGlyphs" stroke="#26a69a" stroke-width="0.3">1.17018</text>
<text x="1259.0" y="473.8" font-size="11.6" fill="#131722" font-family='"Liberation Sans", Arial, sans-serif'>C</text>
<text x="1267.2" y="473.8" font-size="11.8" fill="#26a69a" font-family='"Liberation Sans", Arial, sans-serif' textLength="41.5" lengthAdjust="spacingAndGlyphs" stroke="#26a69a" stroke-width="0.3">1.17130</text>
<text x="1315.3" y="473.8" font-size="11.8" fill="#26a69a" font-family='"Liberation Sans", Arial, sans-serif' textLength="97.5" lengthAdjust="spacingAndGlyphs" stroke="#26a69a" stroke-width="0.3">+0.00047 (+0.04%)</text>
<text x="929.4" y="491.2" font-size="12.2" fill="#131722" font-family='"Liberation Sans", Arial, sans-serif' textLength="96.5" lengthAdjust="spacingAndGlyphs">EMA (20, close, 0)</text>
<text x="1033.4" y="491.2" font-size="11.8" fill="#cfa32b" font-family='"Liberation Sans", Arial, sans-serif' textLength="41.5" lengthAdjust="spacingAndGlyphs" stroke="#cfa32b" stroke-width="0.3">1.17821</text>
<g clip-path="url(#cBa)">
<line x1="1757.5" y1="473.4" x2="1762.0" y2="473.4" stroke="#d3d5dc" stroke-width="1"/>
<text x="1767.4" y="477.7" font-size="12.2" fill="#131722" font-family='"Liberation Sans", Arial, sans-serif' textLength="41.6" lengthAdjust="spacingAndGlyphs">1.22000</text>
<line x1="1757.5" y1="520.0" x2="1762.0" y2="520.0" stroke="#d3d5dc" stroke-width="1"/>
<text x="1767.4" y="524.3" font-size="12.2" fill="#131722" font-family='"Liberation Sans", Arial, sans-serif' textLength="41.6" lengthAdjust="spacingAndGlyphs">1.21000</text>
<line x1="1757.5" y1="566.6" x2="1762.0" y2="566.6" stroke="#d3d5dc" stroke-width="1"/>
<text x="1767.4" y="570.9" font-size="12.2" fill="#131722" font-family='"Liberation Sans", Arial, sans-serif' textLength="41.6" lengthAdjust="spacingAndGlyphs">1.20000</text>
<line x1="1757.5" y1="613.2" x2="1762.0" y2="613.2" stroke="#d3d5dc" stroke-width="1"/>
<text x="1767.4" y="617.5" font-size="12.2" fill="#131722" font-family='"Liberation Sans", Arial, sans-serif' textLength="41.6" lengthAdjust="spacingAndGlyphs">1.19000</text>
<line x1="1757.5" y1="659.8" x2="1762.0" y2="659.8" stroke="#d3d5dc" stroke-width="1"/>
<text x="1767.4" y="664.1" font-size="12.2" fill="#131722" font-family='"Liberation Sans", Arial, sans-serif' textLength="41.6" lengthAdjust="spacingAndGlyphs">1.18000</text>
<line x1="1757.5" y1="706.4" x2="1762.0" y2="706.4" stroke="#d3d5dc" stroke-width="1"/>
<text x="1767.4" y="710.7" font-size="12.2" fill="#131722" font-family='"Liberation Sans", Arial, sans-serif' textLength="41.6" lengthAdjust="spacingAndGlyphs">1.17000</text>
<line x1="1757.5" y1="753.0" x2="1762.0" y2="753.0" stroke="#d3d5dc" stroke-width="1"/>
<text x="1767.4" y="757.3" font-size="12.2" fill="#131722" font-family='"Liberation Sans", Arial, sans-serif' textLength="41.6" lengthAdjust="spacingAndGlyphs">1.16000</text>
<line x1="1757.5" y1="799.6" x2="1762.0" y2="799.6" stroke="#d3d5dc" stroke-width="1"/>
<text x="1767.4" y="803.9" font-size="12.2" fill="#131722" font-family='"Liberation Sans", Arial, sans-serif' textLength="41.6" lengthAdjust="spacingAndGlyphs">1.15000</text>
</g>
<g clip-path="url(#cBb)">
<line x1="1757.5" y1="832.0" x2="1762.0" y2="832.0" stroke="#d3d5dc" stroke-width="1"/>
<text x="1767.4" y="836.3" font-size="12.2" fill="#131722" font-family='"Liberation Sans", Arial, sans-serif' textLength="23.8" lengthAdjust="spacingAndGlyphs">0.00</text>
</g>
<line x1="1757.5" y1="842.8" x2="1762.0" y2="842.8" stroke="#d3d5dc" stroke-width="1"/>
<text x="1767.4" y="847.1" font-size="12.2" fill="#131722" font-family='"Liberation Sans", Arial, sans-serif' textLength="41.6" lengthAdjust="spacingAndGlyphs">0.00000</text>
<rect x="1778.5" y="461.5" width="27.2" height="18.2" rx="4" fill="#ffffff" stroke="#d5d8e2" stroke-width="1"/>
<text x="1792.1" y="474.9" font-size="12" fill="#131722" font-family='"Liberation Sans", Arial, sans-serif' text-anchor="middle" textLength="20.5" lengthAdjust="spacingAndGlyphs">USD</text>
<path d="M1757.5 618.2 h56.5 a2 2 0 0 1 2 2 v13.0 a2 2 0 0 1 -2 2 h-56.5 z" fill="#b71c1c"/>
<line x1="1757.5" y1="626.7" x2="1762.0" y2="626.7" stroke="#ffffff" stroke-width="1"/>
<text x="1767.4" y="631.0" font-size="12.2" fill="#ffffff" font-family='"Liberation Sans", Arial, sans-serif' font-weight="bold" textLength="41.6" lengthAdjust="spacingAndGlyphs">1.18724</text>
<path d="M1757.5 647.1 h56.5 a2 2 0 0 1 2 2 v13.0 a2 2 0 0 1 -2 2 h-56.5 z" fill="#b71c1c"/>
<line x1="1757.5" y1="655.6" x2="1762.0" y2="655.6" stroke="#ffffff" stroke-width="1"/>
<text x="1767.4" y="659.9" font-size="12.2" fill="#ffffff" font-family='"Liberation Sans", Arial, sans-serif' font-weight="bold" textLength="41.6" lengthAdjust="spacingAndGlyphs">1.18088</text>
<path d="M1757.5 692.0 h56.5 a2 2 0 0 1 2 2 v13.0 a2 2 0 0 1 -2 2 h-56.5 z" fill="#26a69a"/>
<line x1="1757.5" y1="700.5" x2="1762.0" y2="700.5" stroke="#ffffff" stroke-width="1"/>
<text x="1767.4" y="704.8" font-size="12.2" fill="#ffffff" font-family='"Liberation Sans", Arial, sans-serif' font-weight="bold" textLength="41.6" lengthAdjust="spacingAndGlyphs">1.17130</text>
<path d="M1757.5 708.9 h56.5 a2 2 0 0 1 2 2 v13.0 a2 2 0 0 1 -2 2 h-56.5 z" fill="#1b5e20"/>
<line x1="1757.5" y1="717.4" x2="1762.0" y2="717.4" stroke="#ffffff" stroke-width="1"/>
<text x="1767.4" y="721.7" font-size="12.2" fill="#ffffff" font-family='"Liberation Sans", Arial, sans-serif' font-weight="bold" textLength="41.6" lengthAdjust="spacingAndGlyphs">1.17041</text>
<path d="M1757.5 732.9 h56.5 a2 2 0 0 1 2 2 v13.0 a2 2 0 0 1 -2 2 h-56.5 z" fill="#1b5e20"/>
<line x1="1757.5" y1="741.4" x2="1762.0" y2="741.4" stroke="#ffffff" stroke-width="1"/>
<text x="1767.4" y="745.7" font-size="12.2" fill="#ffffff" font-family='"Liberation Sans", Arial, sans-serif' font-weight="bold" textLength="41.6" lengthAdjust="spacingAndGlyphs">1.16243</text>
<line x1="971.7" y1="850.5" x2="971.7" y2="853.5" stroke="#d3d5dc" stroke-width="1"/>
<text x="971.7" y="867.5" font-size="11.5" fill="#131722" font-family='"Liberation Sans", Arial, sans-serif' text-anchor="middle">14</text>
<line x1="1143.7" y1="850.5" x2="1143.7" y2="853.5" stroke="#d3d5dc" stroke-width="1"/>
<text x="1143.7" y="867.5" font-size="11.5" fill="#131722" font-family='"Liberation Sans", Arial, sans-serif' text-anchor="middle" font-weight="bold">Jul</text>
<line x1="1236.9" y1="850.5" x2="1236.9" y2="853.5" stroke="#d3d5dc" stroke-width="1"/>
<text x="1236.9" y="867.5" font-size="11.5" fill="#131722" font-family='"Liberation Sans", Arial, sans-serif' text-anchor="middle">12</text>
<line x1="1330.1" y1="850.5" x2="1330.1" y2="853.5" stroke="#d3d5dc" stroke-width="1"/>
<text x="1330.1" y="867.5" font-size="11.5" fill="#131722" font-family='"Liberation Sans", Arial, sans-serif' text-anchor="middle">21</text>
<line x1="1436.2" y1="850.5" x2="1436.2" y2="853.5" stroke="#d3d5dc" stroke-width="1"/>
<text x="1436.2" y="867.5" font-size="11.5" fill="#131722" font-family='"Liberation Sans", Arial, sans-serif' text-anchor="middle" font-weight="bold" textLength="20.5" lengthAdjust="spacingAndGlyphs">Aug</text>
<line x1="1569.0" y1="850.5" x2="1569.0" y2="853.5" stroke="#d3d5dc" stroke-width="1"/>
<text x="1569.0" y="867.5" font-size="11.5" fill="#131722" font-family='"Liberation Sans", Arial, sans-serif' text-anchor="middle">16</text>
<line x1="1727.6" y1="850.5" x2="1727.6" y2="853.5" stroke="#d3d5dc" stroke-width="1"/>
<text x="1727.6" y="867.5" font-size="11.5" fill="#131722" font-family='"Liberation Sans", Arial, sans-serif' text-anchor="middle" font-weight="bold" textLength="19.0" lengthAdjust="spacingAndGlyphs">Sep</text>
</svg>
</body></html>
